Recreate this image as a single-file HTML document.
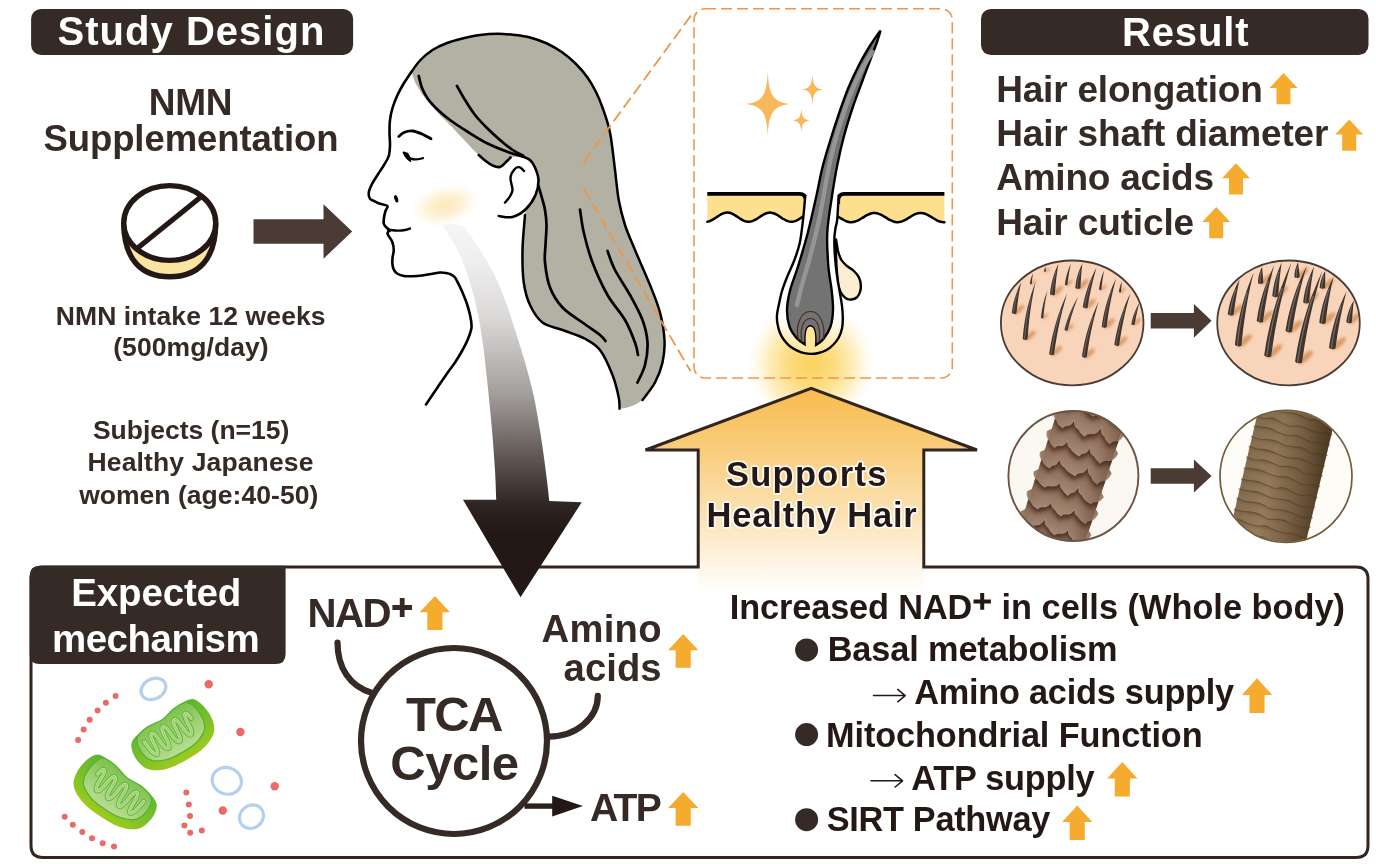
<!DOCTYPE html>
<html><head><meta charset="utf-8"><title>NMN Graphical Abstract</title>
<style>
html,body{margin:0;padding:0;background:#fff;}
body{width:1376px;height:864px;overflow:hidden;font-family:"Liberation Sans",sans-serif;}
svg{display:block;}
svg text{font-family:"Liberation Sans",sans-serif;font-weight:bold;}
</style></head><body>
<svg width="1376" height="864" viewBox="0 0 1376 864">
<rect width="1376" height="864" fill="#ffffff"/>
<!-- sec_box -->
<defs>
<linearGradient id="gOr" x1="0" y1="388" x2="0" y2="592" gradientUnits="userSpaceOnUse">
<stop offset="0" stop-color="#f8bb4e"/><stop offset="0.30" stop-color="#f9cd7c"/><stop offset="0.62" stop-color="#fbe2b4"/><stop offset="0.88" stop-color="#fef6e9"/><stop offset="1" stop-color="#ffffff"/>
</linearGradient>
<radialGradient id="gGlow" cx="811" cy="364" r="66" gradientUnits="userSpaceOnUse">
<stop offset="0" stop-color="#fbd25e"/><stop offset="0.35" stop-color="#fcd870" stop-opacity="0.9"/><stop offset="0.65" stop-color="#fde291" stop-opacity="0.6"/><stop offset="0.88" stop-color="#feeec0" stop-opacity="0.2"/><stop offset="1" stop-color="#fff" stop-opacity="0"/>
</radialGradient>
</defs>
<circle cx="811" cy="364" r="66" fill="url(#gGlow)"/>
<path d="M811.2,388.5 L975,450 L923.8,450 L923.8,592 L698.2,592 L698.2,450 L647.5,450 Z" fill="url(#gOr)"/>
<path d="M698.2,567 L698.2,450 L645.5,450 L811.2,388.3 L977,450 L923.8,450 L923.8,567 L1356,567 Q1368,567 1368,579 L1368,845.5 Q1368,857.5 1356,857.5 L43,857.5 Q31,857.5 31,845.5 L31,579 Q31,567 43,567 Z" fill="none" stroke="#30261f" stroke-width="3" stroke-linejoin="miter"/>
<rect x="31.1" y="8.9" width="322" height="46" rx="10" fill="#352a25"/>
<rect x="981" y="8.9" width="387.5" height="46.2" rx="10" fill="#352a25"/>
<path d="M39.7,565.7 L285.6,565.7 L285.6,654 Q285.6,664 275.6,664 L39.7,664 Q29.7,664 29.7,654 L29.7,575.7 Q29.7,565.7 39.7,565.7Z" fill="#352a25"/>
<path d="M253.50,219.30 L323.50,219.30 L323.50,204.30 L352.20,231.50 L323.50,258.70 L323.50,243.70 L253.50,243.70Z" fill="#4a3c34"/>
<!-- sec_head -->
<defs>
<linearGradient id="gGrey" x1="0" y1="228" x2="0" y2="560" gradientUnits="userSpaceOnUse">
<stop offset="0" stop-color="#f6f5f5"/>
<stop offset="0.10" stop-color="#efeeee"/>
<stop offset="0.27" stop-color="#dbd9d8"/>
<stop offset="0.50" stop-color="#a29e9c"/>
<stop offset="0.70" stop-color="#5d5350"/>
<stop offset="0.84" stop-color="#2d2320"/>
<stop offset="0.92" stop-color="#231815"/>
<stop offset="1" stop-color="#231815"/>
</linearGradient>
<radialGradient id="gBlush" cx="0.5" cy="0.5" r="0.5">
<stop offset="0" stop-color="#fce7b4" stop-opacity="0.95"/><stop offset="0.5" stop-color="#fdecc4" stop-opacity="0.7"/><stop offset="1" stop-color="#fff6e0" stop-opacity="0"/>
</radialGradient>
<filter id="fB" x="-30%" y="-30%" width="160%" height="160%"><feGaussianBlur stdDeviation="3"/></filter>
</defs>
<path d="M411.00,72.50 C412.50,70.50 416.42,64.25 420.00,60.50 C423.58,56.75 428.00,52.92 432.50,50.00 C437.00,47.08 442.00,44.92 447.00,43.00 C452.00,41.08 457.00,39.83 462.50,38.50 C468.00,37.17 474.17,35.79 480.00,35.00 C485.83,34.21 491.67,33.75 497.50,33.75 C503.33,33.75 509.58,34.38 515.00,35.00 C520.42,35.62 524.67,36.08 530.00,37.50 C535.33,38.92 541.58,41.00 547.00,43.50 C552.42,46.00 557.67,49.08 562.50,52.50 C567.33,55.92 571.83,59.83 576.00,64.00 C580.17,68.17 584.17,72.83 587.50,77.50 C590.83,82.17 593.50,87.00 596.00,92.00 C598.50,97.00 600.17,100.75 602.50,107.50 C604.83,114.25 607.92,122.08 610.00,132.50 C612.08,142.92 613.54,158.75 615.00,170.00 C616.46,181.25 617.08,190.83 618.75,200.00 C620.42,209.17 622.29,216.67 625.00,225.00 C627.71,233.33 630.83,240.00 635.00,250.00 C639.17,260.00 645.83,274.58 650.00,285.00 C654.17,295.42 657.58,303.33 660.00,312.50 C662.42,321.67 664.08,331.67 664.50,340.00 C664.92,348.33 664.08,355.42 662.50,362.50 C660.92,369.58 658.33,376.25 655.00,382.50 C651.67,388.75 644.58,397.08 642.50,400.00 Q632,408 619.5,408.75 C619.38,406.88 619.92,403.12 618.75,397.50 C617.58,391.88 615.62,382.92 612.50,375.00 C609.38,367.08 604.58,356.04 600.00,350.00 C595.42,343.96 591.25,342.08 585.00,338.75 C578.75,335.42 569.58,332.71 562.50,330.00 C555.42,327.29 547.92,326.67 542.50,322.50 C537.08,318.33 533.12,311.67 530.00,305.00 C526.88,298.33 525.00,291.67 523.75,282.50 C522.50,273.33 522.29,261.25 522.50,250.00 C522.71,238.75 524.00,223.33 525.00,215.00 C526.00,206.67 527.92,202.50 528.50,200.00 L528,160 L522.5,157 C520.42,157.08 513.75,155.83 510.00,157.50 C506.25,159.17 502.92,165.75 500.00,167.00 C497.08,168.25 496.04,167.00 492.50,165.00 C488.96,163.00 483.17,158.83 478.75,155.00 C474.33,151.17 470.79,147.00 466.00,142.00 C461.21,137.00 454.83,130.00 450.00,125.00 C445.17,120.00 441.17,116.50 437.00,112.00 C432.83,107.50 428.50,102.67 425.00,98.00 C421.50,93.33 418.17,88.17 416.00,84.00 C413.83,79.83 412.67,74.83 412.00,73.00Z" fill="#b3b1a3"/>
<path d="M411.00,72.50 C412.50,70.50 416.42,64.25 420.00,60.50 C423.58,56.75 428.00,52.92 432.50,50.00 C437.00,47.08 442.00,44.92 447.00,43.00 C452.00,41.08 457.00,39.83 462.50,38.50 C468.00,37.17 474.17,35.79 480.00,35.00 C485.83,34.21 491.67,33.75 497.50,33.75 C503.33,33.75 509.58,34.38 515.00,35.00 C520.42,35.62 524.67,36.08 530.00,37.50 C535.33,38.92 541.58,41.00 547.00,43.50 C552.42,46.00 557.67,49.08 562.50,52.50 C567.33,55.92 571.83,59.83 576.00,64.00 C580.17,68.17 584.17,72.83 587.50,77.50 C590.83,82.17 593.50,87.00 596.00,92.00 C598.50,97.00 600.17,100.75 602.50,107.50 C604.83,114.25 607.92,122.08 610.00,132.50 C612.08,142.92 613.54,158.75 615.00,170.00 C616.46,181.25 617.08,190.83 618.75,200.00 C620.42,209.17 622.29,216.67 625.00,225.00 C627.71,233.33 630.83,240.00 635.00,250.00 C639.17,260.00 645.83,274.58 650.00,285.00 C654.17,295.42 657.58,303.33 660.00,312.50 C662.42,321.67 664.08,331.67 664.50,340.00 C664.92,348.33 664.08,355.42 662.50,362.50 C660.92,369.58 658.33,376.25 655.00,382.50 C651.67,388.75 644.58,397.08 642.50,400.00" fill="none" stroke="#000" stroke-linecap="round" stroke-linejoin="round" stroke-width="2.5"/>
<path d="M619.50,408.75 C619.38,406.88 619.92,403.12 618.75,397.50 C617.58,391.88 615.62,382.92 612.50,375.00 C609.38,367.08 604.58,356.04 600.00,350.00 C595.42,343.96 591.25,342.08 585.00,338.75 C578.75,335.42 569.58,332.71 562.50,330.00 C555.42,327.29 547.92,326.67 542.50,322.50 C537.08,318.33 533.12,311.67 530.00,305.00 C526.88,298.33 525.00,291.67 523.75,282.50 C522.50,273.33 522.29,261.25 522.50,250.00 C522.71,238.75 524.58,220.83 525.00,215.00" fill="none" stroke="#000" stroke-linecap="round" stroke-linejoin="round" stroke-width="2.5"/>
<path d="M522.50,156.50 C523.75,157.08 527.92,158.17 530.00,160.00 C532.08,161.83 533.58,164.17 535.00,167.50 C536.42,170.83 538.42,175.42 538.50,180.00 C538.58,184.58 537.58,190.17 535.50,195.00 C533.42,199.83 529.83,205.33 526.00,209.00 C522.17,212.67 517.04,215.83 512.50,217.00 C507.96,218.17 501.04,216.17 498.75,216.00 L504,190 L508,168Z" fill="#fff"/>
<path d="M522.50,156.50 C523.75,157.08 527.92,158.17 530.00,160.00 C532.08,161.83 533.58,164.17 535.00,167.50 C536.42,170.83 538.42,175.42 538.50,180.00 C538.58,184.58 537.58,190.17 535.50,195.00 C533.42,199.83 529.83,205.33 526.00,209.00 C522.17,212.67 517.04,215.83 512.50,217.00 C507.96,218.17 501.04,216.17 498.75,216.00" fill="none" stroke="#000" stroke-linecap="round" stroke-linejoin="round" stroke-width="2.6"/>
<path d="M524.00,171.00 C523.33,170.38 521.50,167.68 520.00,167.30 C518.50,166.93 516.58,167.05 515.00,168.75 C513.42,170.45 510.92,173.96 510.50,177.50 C510.08,181.04 512.67,186.75 512.50,190.00 C512.33,193.25 510.75,194.92 509.50,197.00 C508.25,199.08 505.75,201.58 505.00,202.50" fill="none" stroke="#000" stroke-linecap="round" stroke-linejoin="round" stroke-width="2.4"/>
<path d="M478.75,155.00 C479.79,155.92 482.71,158.75 485.00,160.50 C487.29,162.25 490.00,164.42 492.50,165.50 C495.00,166.58 497.75,167.58 500.00,167.00 C502.25,166.42 504.25,163.58 506.00,162.00 C507.75,160.42 509.75,158.25 510.50,157.50" fill="none" stroke="#000" stroke-linecap="round" stroke-linejoin="round" stroke-width="2.6"/>
<path d="M418.75,76.00 C419.29,78.00 420.46,84.17 422.00,88.00 C423.54,91.83 425.33,95.33 428.00,99.00 C430.67,102.67 434.33,106.50 438.00,110.00 C441.67,113.50 445.00,116.33 450.00,120.00 C455.00,123.67 461.75,128.08 468.00,132.00 C474.25,135.92 480.83,140.17 487.50,143.50 C494.17,146.83 502.17,149.83 508.00,152.00 C513.83,154.17 520.08,155.75 522.50,156.50" fill="none" stroke="#000" stroke-linecap="round" stroke-linejoin="round" stroke-width="2.7"/>
<path d="M457.00,86.00 C458.33,88.33 462.00,95.17 465.00,100.00 C468.00,104.83 471.33,110.33 475.00,115.00 C478.67,119.67 482.83,123.83 487.00,128.00 C491.17,132.17 495.83,136.42 500.00,140.00 C504.17,143.58 508.17,146.92 512.00,149.50 C515.83,152.08 521.17,154.50 523.00,155.50" fill="none" stroke="#000" stroke-linecap="round" stroke-linejoin="round" stroke-width="2.7"/>
<path d="M538.50,186.00 C539.08,188.00 540.92,194.00 542.00,198.00 C543.08,202.00 544.25,205.50 545.00,210.00 C545.75,214.50 546.42,219.17 546.50,225.00 C546.58,230.83 545.75,238.75 545.50,245.00 C545.25,251.25 544.25,255.42 545.00,262.50 C545.75,269.58 547.08,280.00 550.00,287.50 C552.92,295.00 557.08,301.67 562.50,307.50 C567.92,313.33 576.25,317.92 582.50,322.50 C588.75,327.08 596.17,331.92 600.00,335.00 C603.83,338.08 604.58,340.00 605.50,341.00" fill="none" stroke="#000" stroke-linecap="round" stroke-linejoin="round" stroke-width="2.7"/>
<path d="M580.00,209.50 C580.62,213.33 581.67,223.67 583.75,232.50 C585.83,241.33 588.54,252.08 592.50,262.50 C596.46,272.92 602.08,285.42 607.50,295.00 C612.92,304.58 620.42,312.08 625.00,320.00 C629.58,327.92 632.83,336.67 635.00,342.50 C637.17,348.33 637.50,352.92 638.00,355.00" fill="none" stroke="#000" stroke-linecap="round" stroke-linejoin="round" stroke-width="2.7"/>
<path d="M607.50,251.00 C608.75,254.17 611.25,262.67 615.00,270.00 C618.75,277.33 625.42,286.67 630.00,295.00 C634.58,303.33 639.58,312.08 642.50,320.00 C645.42,327.92 647.08,335.00 647.50,342.50 C647.92,350.00 646.67,358.33 645.00,365.00 C643.33,371.67 638.75,379.58 637.50,382.50" fill="none" stroke="#000" stroke-linecap="round" stroke-linejoin="round" stroke-width="2.7"/>
<path d="M411.00,72.50 C409.83,74.25 406.25,79.25 404.00,83.00 C401.75,86.75 399.42,90.83 397.50,95.00 C395.58,99.17 393.75,103.83 392.50,108.00 C391.25,112.17 390.50,115.83 390.00,120.00 C389.50,124.17 389.50,128.83 389.50,133.00 C389.50,137.17 390.12,141.17 390.00,145.00 C389.88,148.83 389.75,152.67 388.75,156.00 C387.75,159.33 385.88,161.83 384.00,165.00 C382.12,168.17 379.50,171.83 377.50,175.00 C375.50,178.17 373.46,181.08 372.00,184.00 C370.54,186.92 369.08,190.04 368.75,192.50 C368.42,194.96 368.96,197.25 370.00,198.75 C371.04,200.25 373.33,200.67 375.00,201.50 C376.67,202.33 377.92,203.00 380.00,203.75 C382.08,204.50 386.58,204.79 387.50,206.00 C388.42,207.21 386.08,209.08 385.50,211.00 C384.92,212.92 384.29,215.38 384.00,217.50 C383.71,219.62 383.33,222.08 383.75,223.75 C384.17,225.42 385.46,226.38 386.50,227.50 C387.54,228.62 389.42,230.00 390.00,230.50" fill="none" stroke="#000" stroke-linecap="round" stroke-linejoin="round" stroke-width="2.6"/>
<path d="M388.00,229.80 C389.67,229.93 395.17,230.57 398.00,230.60 C400.83,230.63 403.00,230.35 405.00,230.00 C407.00,229.65 409.17,228.75 410.00,228.50" fill="none" stroke="#000" stroke-linecap="round" stroke-linejoin="round" stroke-width="2.4"/>
<path d="M388.50,231.50 C388.33,231.88 387.25,232.67 387.50,233.75 C387.75,234.83 389.17,236.54 390.00,238.00 C390.83,239.46 391.88,240.50 392.50,242.50 C393.12,244.50 393.75,247.42 393.75,250.00 C393.75,252.58 392.71,255.50 392.50,258.00 C392.29,260.50 392.25,263.00 392.50,265.00 C392.75,267.00 393.17,268.54 394.00,270.00 C394.83,271.46 395.83,272.75 397.50,273.75 C399.17,274.75 401.50,275.58 404.00,276.00 C406.50,276.42 409.50,276.33 412.50,276.25 C415.50,276.17 418.67,275.92 422.00,275.50 C425.33,275.08 429.50,274.25 432.50,273.75 C435.50,273.25 437.75,272.62 440.00,272.50 C442.25,272.38 444.17,272.67 446.00,273.00 C447.83,273.33 449.50,273.75 451.00,274.50 C452.50,275.25 453.67,275.75 455.00,277.50 C456.33,279.25 457.75,282.50 459.00,285.00 C460.25,287.50 461.17,289.33 462.50,292.50 C463.83,295.67 465.75,300.25 467.00,304.00 C468.25,307.75 469.25,311.08 470.00,315.00 C470.75,318.92 471.92,323.33 471.50,327.50 C471.08,331.67 469.08,336.08 467.50,340.00 C465.92,343.92 464.08,347.25 462.00,351.00 C459.92,354.75 457.67,358.50 455.00,362.50 C452.33,366.50 448.92,370.83 446.00,375.00 C443.08,379.17 440.83,382.58 437.50,387.50 C434.17,392.42 427.92,401.67 426.00,404.50" fill="none" stroke="#000" stroke-linecap="round" stroke-linejoin="round" stroke-width="2.6"/>
<path d="M398.75,136.50 C399.62,135.83 401.71,133.42 404.00,132.50 C406.29,131.58 409.50,130.75 412.50,131.00 C415.50,131.25 418.92,132.71 422.00,134.00 C425.08,135.29 429.50,137.96 431.00,138.75" fill="none" stroke="#000" stroke-linecap="round" stroke-linejoin="round" stroke-width="2.8"/>
<path d="M403.5,152.3 Q406,158.3 410.4,161 Q409.6,156.5 407.4,153.6Z" fill="#000" stroke="#000" stroke-width="1.8" stroke-linejoin="round"/>
<path d="M407.00,156.00 C407.67,156.43 409.50,158.03 411.00,158.60 C412.50,159.17 414.00,159.47 416.00,159.40 C418.00,159.33 421.83,158.40 423.00,158.20" fill="none" stroke="#000" stroke-linecap="round" stroke-linejoin="round" stroke-width="2.2"/>
<ellipse cx="396.2" cy="198.8" rx="1.8" ry="3.8" transform="rotate(-18 396.2 198.8)" fill="#000"/>
<ellipse cx="445" cy="205.5" rx="36" ry="21" transform="rotate(-14 445 205.5)" fill="url(#gBlush)"/>
<path d="M442.50,226.00 C443.75,227.83 447.50,233.00 450.00,237.00 C452.50,241.00 455.17,245.33 457.50,250.00 C459.83,254.67 461.92,259.58 464.00,265.00 C466.08,270.42 468.08,276.17 470.00,282.50 C471.92,288.83 473.83,295.92 475.50,303.00 C477.17,310.08 478.67,317.50 480.00,325.00 C481.33,332.50 482.50,340.50 483.50,348.00 C484.50,355.50 485.12,362.00 486.00,370.00 C486.88,378.00 487.75,386.00 488.75,396.00 C489.75,406.00 490.96,417.67 492.00,430.00 C493.04,442.33 494.29,458.38 495.00,470.00 C495.71,481.62 496.04,494.79 496.25,499.75 L463,499.75 L520.5,597.25 L581.75,502.25 L549.25,501 C548.96,498.33 548.21,491.00 547.50,485.00 C546.79,479.00 546.00,472.50 545.00,465.00 C544.00,457.50 542.75,448.17 541.50,440.00 C540.25,431.83 538.79,423.33 537.50,416.00 C536.21,408.67 535.25,402.83 533.75,396.00 C532.25,389.17 530.46,382.33 528.50,375.00 C526.54,367.67 524.25,359.50 522.00,352.00 C519.75,344.50 517.33,337.33 515.00,330.00 C512.67,322.67 510.50,315.08 508.00,308.00 C505.50,300.92 502.83,294.17 500.00,287.50 C497.17,280.83 494.33,274.25 491.00,268.00 C487.67,261.75 483.33,255.33 480.00,250.00 C476.67,244.67 473.83,240.00 471.00,236.00 C468.17,232.00 464.33,227.67 463.00,226.00 Q452,222 442.5,226Z" fill="url(#gGrey)"/>
<path d="M583.5,162.5 L692.5,13.5 M583.5,188.5 L690.5,371" stroke="#ef9648" stroke-width="1.8" stroke-dasharray="12 5" fill="none"/>
<path d="M121.2,223 C121.2,256 136,279 169.75,279 C203.5,279 218.3,256 218.3,223 C218.3,246 196,261 169.75,261 C143.5,261 121.2,246 121.2,223Z" fill="#fbe3a1"/>
<path d="M123.8,223 C123.8,259 141,276.8 169.75,276.8 C198.5,276.8 215.7,259 215.7,223" fill="none" stroke="#231815" stroke-width="5.4"/>
<ellipse cx="169.75" cy="223" rx="46" ry="37.4" fill="#fff" stroke="#231815" stroke-width="5.4"/>
<path d="M200.2,197.4 L138,247.7" stroke="#231815" stroke-width="5.2"/>
<!-- sec_follicle -->
<defs>
<linearGradient id="gHairF" x1="0" y1="0" x2="1" y2="0">
<stop offset="0" stop-color="#6a6a6a"/><stop offset="0.35" stop-color="#8c8c8c"/><stop offset="0.6" stop-color="#777"/><stop offset="1" stop-color="#666"/>
</linearGradient>
</defs>
<rect x="694" y="8.8" width="258.3" height="369.2" rx="11" fill="none" stroke="#ef9648" stroke-width="1.6" stroke-dasharray="11 5"/>
<path d="M767.80,71.20 C768.75,94.98 773.25,101.95 789.60,104.00 C773.25,106.05 768.75,113.02 767.80,136.80 C766.85,113.02 762.35,106.05 746.00,104.00 C762.35,101.95 766.85,94.98 767.80,71.20Z" fill="#f7b85c"/>
<path d="M812.40,73.80 C812.86,85.18 815.00,88.52 822.80,89.50 C815.00,90.48 812.86,93.82 812.40,105.20 C811.94,93.82 809.80,90.48 802.00,89.50 C809.80,88.52 811.94,85.18 812.40,73.80Z" fill="#f7b85c"/>
<path d="M801.30,107.80 C801.68,116.94 803.45,119.61 809.90,120.40 C803.45,121.19 801.68,123.87 801.30,133.00 C800.92,123.87 799.15,121.19 792.70,120.40 C799.15,119.61 800.92,116.94 801.30,107.80Z" fill="#f7b85c"/>
<path d="M707.3,194 L799.5,194 Q805.6,194 805.6,200 L805.6,214.89  C805.19,215.15 803.96,215.91 803.14,216.45 C802.32,216.98 801.50,217.57 800.69,218.10 C799.87,218.63 799.05,219.18 798.23,219.64 C797.41,220.10 796.59,220.53 795.77,220.86 C794.95,221.19 794.13,221.46 793.31,221.61 C792.49,221.76 791.67,221.83 790.86,221.79 C790.04,221.75 789.22,221.60 788.40,221.37 C787.58,221.14 786.76,220.81 785.94,220.42 C785.12,220.03 784.30,219.54 783.48,219.05 C782.66,218.55 781.84,217.98 781.02,217.44 C780.21,216.90 779.39,216.31 778.57,215.80 C777.75,215.28 776.93,214.76 776.11,214.34 C775.29,213.91 774.47,213.53 773.65,213.25 C772.83,212.97 772.01,212.77 771.20,212.67 C770.38,212.58 769.56,212.58 768.74,212.68 C767.92,212.78 767.10,212.99 766.28,213.27 C765.46,213.55 764.64,213.95 763.82,214.37 C763.00,214.80 762.18,215.32 761.37,215.84 C760.55,216.36 759.73,216.94 758.91,217.48 C758.09,218.02 757.27,218.59 756.45,219.09 C755.63,219.58 754.81,220.07 753.99,220.45 C753.17,220.83 752.35,221.17 751.53,221.39 C750.72,221.62 749.90,221.76 749.08,221.79 C748.26,221.83 747.44,221.76 746.62,221.60 C745.80,221.44 744.98,221.17 744.16,220.83 C743.34,220.50 742.52,220.06 741.70,219.60 C740.89,219.14 740.07,218.59 739.25,218.06 C738.43,217.52 737.61,216.94 736.79,216.40 C735.97,215.87 735.15,215.32 734.33,214.85 C733.51,214.38 732.69,213.94 731.88,213.60 C731.06,213.27 730.24,212.99 729.42,212.82 C728.60,212.66 727.78,212.58 726.96,212.61 C726.14,212.63 725.32,212.77 724.50,212.98 C723.68,213.20 722.86,213.53 722.04,213.91 C721.23,214.29 720.41,214.77 719.59,215.26 C718.77,215.75 717.95,216.32 717.13,216.86 C716.31,217.40 715.49,217.98 714.67,218.50 C713.85,219.02 713.03,219.55 712.21,219.98 C711.40,220.41 710.58,220.81 709.76,221.10 C708.94,221.39 707.71,221.61 707.30,221.71 Z" fill="#fde08f"/>
<path d="M805.60,214.89 C805.19,215.15 803.96,215.91 803.14,216.45 C802.32,216.98 801.50,217.57 800.69,218.10 C799.87,218.63 799.05,219.18 798.23,219.64 C797.41,220.10 796.59,220.53 795.77,220.86 C794.95,221.19 794.13,221.46 793.31,221.61 C792.49,221.76 791.67,221.83 790.86,221.79 C790.04,221.75 789.22,221.60 788.40,221.37 C787.58,221.14 786.76,220.81 785.94,220.42 C785.12,220.03 784.30,219.54 783.48,219.05 C782.66,218.55 781.84,217.98 781.02,217.44 C780.21,216.90 779.39,216.31 778.57,215.80 C777.75,215.28 776.93,214.76 776.11,214.34 C775.29,213.91 774.47,213.53 773.65,213.25 C772.83,212.97 772.01,212.77 771.20,212.67 C770.38,212.58 769.56,212.58 768.74,212.68 C767.92,212.78 767.10,212.99 766.28,213.27 C765.46,213.55 764.64,213.95 763.82,214.37 C763.00,214.80 762.18,215.32 761.37,215.84 C760.55,216.36 759.73,216.94 758.91,217.48 C758.09,218.02 757.27,218.59 756.45,219.09 C755.63,219.58 754.81,220.07 753.99,220.45 C753.17,220.83 752.35,221.17 751.53,221.39 C750.72,221.62 749.90,221.76 749.08,221.79 C748.26,221.83 747.44,221.76 746.62,221.60 C745.80,221.44 744.98,221.17 744.16,220.83 C743.34,220.50 742.52,220.06 741.70,219.60 C740.89,219.14 740.07,218.59 739.25,218.06 C738.43,217.52 737.61,216.94 736.79,216.40 C735.97,215.87 735.15,215.32 734.33,214.85 C733.51,214.38 732.69,213.94 731.88,213.60 C731.06,213.27 730.24,212.99 729.42,212.82 C728.60,212.66 727.78,212.58 726.96,212.61 C726.14,212.63 725.32,212.77 724.50,212.98 C723.68,213.20 722.86,213.53 722.04,213.91 C721.23,214.29 720.41,214.77 719.59,215.26 C718.77,215.75 717.95,216.32 717.13,216.86 C716.31,217.40 715.49,217.98 714.67,218.50 C713.85,219.02 713.03,219.55 712.21,219.98 C711.40,220.41 710.58,220.81 709.76,221.10 C708.94,221.39 707.71,221.61 707.30,221.71" fill="none" stroke="#000" stroke-linejoin="round" stroke-linecap="round" stroke-width="2.5"/>
<path d="M707.3,193.9 L799.5,193.9 Q805.8,193.9 805.8,200.5 L805.8,204" fill="none" stroke="#000" stroke-width="3.8" stroke-linejoin="round"/>
<path d="M944.4,194 L844.5,194 Q838.4,194 838.4,200 L838.4,216.81  C838.84,217.08 840.17,217.92 841.05,218.45 C841.93,218.98 842.82,219.53 843.70,219.99 C844.58,220.45 845.47,220.89 846.35,221.22 C847.23,221.55 848.12,221.83 849.00,221.99 C849.88,222.15 850.77,222.22 851.65,222.19 C852.53,222.16 853.42,222.03 854.30,221.81 C855.18,221.59 856.07,221.27 856.95,220.89 C857.83,220.51 858.72,220.04 859.60,219.55 C860.48,219.06 861.37,218.50 862.25,217.96 C863.13,217.42 864.02,216.84 864.90,216.32 C865.78,215.80 866.67,215.28 867.55,214.85 C868.43,214.42 869.32,214.02 870.20,213.73 C871.08,213.44 871.97,213.21 872.85,213.10 C873.73,212.99 874.62,212.97 875.50,213.05 C876.38,213.13 877.27,213.32 878.15,213.58 C879.03,213.85 879.92,214.22 880.80,214.63 C881.68,215.04 882.57,215.55 883.45,216.05 C884.33,216.56 885.22,217.14 886.10,217.68 C886.98,218.22 887.87,218.79 888.75,219.29 C889.63,219.79 890.52,220.29 891.40,220.69 C892.28,221.09 893.17,221.44 894.05,221.69 C894.93,221.94 895.82,222.11 896.70,222.17 C897.58,222.23 898.47,222.19 899.35,222.06 C900.23,221.93 901.12,221.69 902.00,221.39 C902.88,221.08 903.77,220.67 904.65,220.22 C905.53,219.78 906.42,219.25 907.30,218.73 C908.18,218.20 909.07,217.62 909.95,217.09 C910.83,216.55 911.72,215.99 912.60,215.51 C913.48,215.03 914.37,214.57 915.25,214.20 C916.13,213.84 917.02,213.53 917.90,213.33 C918.78,213.13 919.67,213.01 920.55,213.00 C921.43,212.99 922.32,213.08 923.20,213.26 C924.08,213.44 924.97,213.73 925.85,214.08 C926.73,214.43 927.62,214.87 928.50,215.35 C929.38,215.82 930.27,216.37 931.15,216.90 C932.03,217.43 932.92,218.02 933.80,218.55 C934.68,219.07 935.57,219.61 936.45,220.07 C937.33,220.52 938.22,220.95 939.10,221.28 C939.98,221.60 940.87,221.86 941.75,222.01 C942.63,222.17 943.96,222.16 944.40,222.19 Z" fill="#fde08f"/>
<path d="M838.40,216.81 C838.84,217.08 840.17,217.92 841.05,218.45 C841.93,218.98 842.82,219.53 843.70,219.99 C844.58,220.45 845.47,220.89 846.35,221.22 C847.23,221.55 848.12,221.83 849.00,221.99 C849.88,222.15 850.77,222.22 851.65,222.19 C852.53,222.16 853.42,222.03 854.30,221.81 C855.18,221.59 856.07,221.27 856.95,220.89 C857.83,220.51 858.72,220.04 859.60,219.55 C860.48,219.06 861.37,218.50 862.25,217.96 C863.13,217.42 864.02,216.84 864.90,216.32 C865.78,215.80 866.67,215.28 867.55,214.85 C868.43,214.42 869.32,214.02 870.20,213.73 C871.08,213.44 871.97,213.21 872.85,213.10 C873.73,212.99 874.62,212.97 875.50,213.05 C876.38,213.13 877.27,213.32 878.15,213.58 C879.03,213.85 879.92,214.22 880.80,214.63 C881.68,215.04 882.57,215.55 883.45,216.05 C884.33,216.56 885.22,217.14 886.10,217.68 C886.98,218.22 887.87,218.79 888.75,219.29 C889.63,219.79 890.52,220.29 891.40,220.69 C892.28,221.09 893.17,221.44 894.05,221.69 C894.93,221.94 895.82,222.11 896.70,222.17 C897.58,222.23 898.47,222.19 899.35,222.06 C900.23,221.93 901.12,221.69 902.00,221.39 C902.88,221.08 903.77,220.67 904.65,220.22 C905.53,219.78 906.42,219.25 907.30,218.73 C908.18,218.20 909.07,217.62 909.95,217.09 C910.83,216.55 911.72,215.99 912.60,215.51 C913.48,215.03 914.37,214.57 915.25,214.20 C916.13,213.84 917.02,213.53 917.90,213.33 C918.78,213.13 919.67,213.01 920.55,213.00 C921.43,212.99 922.32,213.08 923.20,213.26 C924.08,213.44 924.97,213.73 925.85,214.08 C926.73,214.43 927.62,214.87 928.50,215.35 C929.38,215.82 930.27,216.37 931.15,216.90 C932.03,217.43 932.92,218.02 933.80,218.55 C934.68,219.07 935.57,219.61 936.45,220.07 C937.33,220.52 938.22,220.95 939.10,221.28 C939.98,221.60 940.87,221.86 941.75,222.01 C942.63,222.17 943.96,222.16 944.40,222.19" fill="none" stroke="#000" stroke-linejoin="round" stroke-linecap="round" stroke-width="2.5"/>
<path d="M944.4,193.9 L844.5,193.9 Q838.2,193.9 838.2,200.5 L838.2,204" fill="none" stroke="#000" stroke-width="3.8" stroke-linejoin="round"/>
<path d="M835.80,240.60 C835.88,235.77 837.07,247.77 838.00,251.00 C838.93,254.23 839.90,257.50 841.40,260.00 C842.90,262.50 844.92,264.17 847.00,266.00 C849.08,267.83 851.90,269.08 853.90,271.00 C855.90,272.92 857.85,275.17 859.00,277.50 C860.15,279.83 860.63,282.58 860.80,285.00 C860.97,287.42 860.68,289.92 860.00,292.00 C859.32,294.08 858.12,296.25 856.70,297.50 C855.28,298.75 853.12,299.27 851.50,299.50 C849.88,299.73 848.42,299.57 847.00,298.90 C845.58,298.23 844.17,296.88 843.00,295.50 C841.83,294.12 840.92,293.18 840.00,290.60 C839.08,288.02 838.20,288.33 837.50,280.00 C836.80,271.67 835.72,245.43 835.80,240.60Z" fill="#fbedd2" stroke="#000" stroke-linejoin="round" stroke-linecap="round" stroke-width="2.4"/>
<defs><linearGradient id="gSh" x1="0" y1="280" x2="0" y2="350" gradientUnits="userSpaceOnUse"><stop offset="0" stop-color="#fff"/><stop offset="0.55" stop-color="#fff"/><stop offset="1" stop-color="#fde59a"/></linearGradient></defs>
<path d="M805.30,196.00 C804.92,200.00 803.93,212.12 803.00,220.00 C802.07,227.88 801.20,236.47 799.70,243.30 C798.20,250.13 796.08,255.43 794.00,261.00 C791.92,266.57 789.20,271.70 787.20,276.70 C785.20,281.70 783.38,286.38 782.00,291.00 C780.62,295.62 779.73,300.40 778.90,304.40 C778.07,308.40 777.23,311.75 777.00,315.00 C776.77,318.25 777.00,320.90 777.50,323.90 C778.00,326.90 778.85,330.22 780.00,333.00 C781.15,335.78 782.65,338.30 784.40,340.60 C786.15,342.90 788.18,345.05 790.50,346.80 C792.82,348.55 795.97,350.03 798.30,351.10 C800.63,352.17 802.42,352.73 804.50,353.20 C806.58,353.67 808.47,353.93 810.80,353.90 C813.13,353.87 815.95,353.60 818.50,353.00 C821.05,352.40 823.68,351.63 826.10,350.30 C828.52,348.97 830.92,347.08 833.00,345.00 C835.08,342.92 837.10,340.55 838.60,337.80 C840.10,335.05 841.30,331.75 842.00,328.50 C842.70,325.25 842.80,322.05 842.80,318.30 C842.80,314.55 842.47,310.17 842.00,306.00 C841.53,301.83 840.75,297.80 840.00,293.30 C839.25,288.80 838.20,283.62 837.50,279.00 C836.80,274.38 836.28,270.27 835.80,265.60 C835.32,260.93 834.83,255.63 834.60,251.00 C834.37,246.37 834.25,241.63 834.40,237.80 C834.55,233.97 835.03,231.02 835.50,228.00 C835.97,224.98 836.68,225.03 837.20,219.70 C837.72,214.37 838.37,199.95 838.60,196.00Z" fill="url(#gSh)"/>
<path d="M805.30,196.00 C804.92,200.00 803.93,212.12 803.00,220.00 C802.07,227.88 801.20,236.47 799.70,243.30 C798.20,250.13 796.08,255.43 794.00,261.00 C791.92,266.57 789.20,271.70 787.20,276.70 C785.20,281.70 783.38,286.38 782.00,291.00 C780.62,295.62 779.73,300.40 778.90,304.40 C778.07,308.40 777.23,311.75 777.00,315.00 C776.77,318.25 777.00,320.90 777.50,323.90 C778.00,326.90 778.85,330.22 780.00,333.00 C781.15,335.78 782.65,338.30 784.40,340.60 C786.15,342.90 788.18,345.05 790.50,346.80 C792.82,348.55 795.97,350.03 798.30,351.10 C800.63,352.17 802.42,352.73 804.50,353.20 C806.58,353.67 808.47,353.93 810.80,353.90 C813.13,353.87 815.95,353.60 818.50,353.00 C821.05,352.40 823.68,351.63 826.10,350.30 C828.52,348.97 830.92,347.08 833.00,345.00 C835.08,342.92 837.10,340.55 838.60,337.80 C840.10,335.05 841.30,331.75 842.00,328.50 C842.70,325.25 842.80,322.05 842.80,318.30 C842.80,314.55 842.47,310.17 842.00,306.00 C841.53,301.83 840.75,297.80 840.00,293.30 C839.25,288.80 838.20,283.62 837.50,279.00 C836.80,274.38 836.28,270.27 835.80,265.60 C835.32,260.93 834.83,255.63 834.60,251.00 C834.37,246.37 834.25,241.63 834.40,237.80 C834.55,233.97 835.03,231.02 835.50,228.00 C835.97,224.98 836.68,225.03 837.20,219.70 C837.72,214.37 838.37,199.95 838.60,196.00" fill="none" stroke="#000" stroke-linejoin="round" stroke-linecap="round" stroke-width="2.4"/>
<path d="M879.70,31.30 C878.17,33.58 873.87,39.55 870.50,45.00 C867.13,50.45 863.20,56.83 859.50,64.00 C855.80,71.17 851.80,79.50 848.30,88.00 C844.80,96.50 841.58,106.00 838.50,115.00 C835.42,124.00 832.50,133.17 829.80,142.00 C827.10,150.83 824.53,159.00 822.30,168.00 C820.07,177.00 818.78,185.33 816.40,196.00 C814.02,206.67 811.02,220.40 808.00,232.00 C804.98,243.60 801.30,255.83 798.30,265.60 C795.30,275.37 791.88,283.20 790.00,290.60 C788.12,298.00 787.08,303.98 787.00,310.00 C786.92,316.02 787.83,321.95 789.50,326.70 C791.17,331.45 794.33,335.50 797.00,338.50 C799.67,341.50 804.08,343.67 805.50,344.70 L805.5,344.7 C805.3,336 805.6,326.2 810.3,326.2 C815,326.2 815.8,336 815.2,345.4 C816.55,344.37 820.75,342.32 823.30,339.20 C825.85,336.08 828.88,331.57 830.50,326.70 C832.12,321.83 832.80,316.02 833.00,310.00 C833.20,303.98 832.48,298.00 831.70,290.60 C830.92,283.20 829.03,275.33 828.30,265.60 C827.57,255.87 826.68,243.80 827.30,232.20 C827.92,220.60 830.33,207.20 832.00,196.00 C833.67,184.80 835.30,175.00 837.30,165.00 C839.30,155.00 841.47,145.50 844.00,136.00 C846.53,126.50 849.50,117.00 852.50,108.00 C855.50,99.00 858.92,90.33 862.00,82.00 C865.08,73.67 868.50,64.67 871.00,58.00 C873.50,51.33 875.45,46.42 877.00,42.00 C878.55,37.58 879.75,33.25 880.30,31.50Z" fill="#737373" stroke="#000" stroke-linejoin="round" stroke-linecap="round" stroke-width="2.4"/>
<path d="M872.50,52.00 C870.50,55.33 864.42,64.33 860.50,72.00 C856.58,79.67 852.50,89.00 849.00,98.00 C845.50,107.00 842.42,116.50 839.50,126.00 C836.58,135.50 833.83,145.17 831.50,155.00 C829.17,164.83 827.58,174.17 825.50,185.00 C823.42,195.83 821.50,208.33 819.00,220.00 C816.50,231.67 813.33,244.17 810.50,255.00 C807.67,265.83 804.25,276.67 802.00,285.00 C799.75,293.33 797.83,301.67 797.00,305.00" fill="none" stroke="#9c9c9c" stroke-width="4.4" stroke-linecap="round" opacity="0.85"/>
<path d="M805.8,345.5 C805.3,336 805.6,326.6 810.3,326.6 C815,326.6 815.8,336 814.9,345.9 Q810,348 805.8,345.5Z" fill="#fde59a"/>
<path d="M798.5,340 C795,327 800,311.5 810.5,311.5 C821,311.5 826,327 823,340" fill="none" stroke="#4a2a20" stroke-width="1.2"/>
<path d="M802,342 C799.5,331 802.5,318.5 810.5,318.5 C818.5,318.5 821,331 819,342.5" fill="none" stroke="#4a2a20" stroke-width="1.1"/>
<!-- sec_result -->
<defs>
<filter id="fSh" x="-20%" y="-20%" width="140%" height="140%"><feGaussianBlur stdDeviation="1.5"/></filter>
<filter id="fSc" x="-10%" y="-30%" width="120%" height="160%"><feGaussianBlur stdDeviation="2"/></filter>
<linearGradient id="gS1" x1="0" y1="0" x2="1" y2="0"><stop offset="0" stop-color="#98796a"/><stop offset="0.4" stop-color="#a68a77"/><stop offset="0.75" stop-color="#987a67"/><stop offset="1" stop-color="#856553"/></linearGradient>
<linearGradient id="gS1r" x1="0" y1="0" x2="0" y2="1"><stop offset="0" stop-color="#7b5d4b"/><stop offset="0.5" stop-color="#92745f"/><stop offset="1" stop-color="#a98d79"/></linearGradient>
<linearGradient id="gS1s" x1="0" y1="0" x2="1" y2="0"><stop offset="0" stop-color="#5a3a2a" stop-opacity="0.18"/><stop offset="0.2" stop-color="#5a3a2a" stop-opacity="0"/><stop offset="0.72" stop-color="#5a3a2a" stop-opacity="0"/><stop offset="1" stop-color="#4a2c1e" stop-opacity="0.35"/></linearGradient>
<linearGradient id="gS2" x1="0" y1="0" x2="1" y2="0"><stop offset="0" stop-color="#846c50"/><stop offset="0.35" stop-color="#967b5c"/><stop offset="0.7" stop-color="#7f654a"/><stop offset="1" stop-color="#5e4831"/></linearGradient>
<linearGradient id="gS2l" x1="0" y1="0" x2="0" y2="1"><stop offset="0" stop-color="#4a3818" stop-opacity="0.42"/><stop offset="0.5" stop-color="#4a3818" stop-opacity="0.1"/><stop offset="1" stop-color="#4a3818" stop-opacity="0"/></linearGradient>
<linearGradient id="gS2s" x1="1" y1="0" x2="0.3" y2="0.6"><stop offset="0" stop-color="#2e220c" stop-opacity="0.55"/><stop offset="0.5" stop-color="#3a2c12" stop-opacity="0.15"/><stop offset="1" stop-color="#3a2c12" stop-opacity="0"/></linearGradient>
</defs>
<clipPath id="cpA"><ellipse cx="1072.20" cy="322.90" rx="71.30" ry="62.40"/></clipPath>
<ellipse cx="1072.20" cy="322.90" rx="71.30" ry="62.40" fill="#f8d4ba"/>
<g clip-path="url(#cpA)">
<g filter="url(#fSh)">
<ellipse cx="1019.16" cy="309.74" rx="6.68" ry="2.36" transform="rotate(-42 1019.16 309.74)" fill="#c87430" opacity="0.62"/>
<ellipse cx="1030.37" cy="335.53" rx="6.92" ry="2.44" transform="rotate(-42 1030.37 335.53)" fill="#c87430" opacity="0.62"/>
<ellipse cx="1045.10" cy="316.11" rx="3.94" ry="1.48" transform="rotate(-42 1045.10 316.11)" fill="#c87430" opacity="0.62"/>
<ellipse cx="1057.61" cy="290.96" rx="6.92" ry="2.44" transform="rotate(-42 1057.61 290.96)" fill="#c87430" opacity="0.62"/>
<ellipse cx="1056.80" cy="350.93" rx="6.92" ry="2.44" transform="rotate(-42 1056.80 350.93)" fill="#c87430" opacity="0.62"/>
<ellipse cx="1069.69" cy="327.72" rx="4.93" ry="1.80" transform="rotate(-42 1069.69 327.72)" fill="#c87430" opacity="0.62"/>
<ellipse cx="1069.28" cy="282.75" rx="4.19" ry="1.56" transform="rotate(-42 1069.28 282.75)" fill="#c87430" opacity="0.62"/>
<ellipse cx="1083.25" cy="284.33" rx="7.17" ry="2.52" transform="rotate(-42 1083.25 284.33)" fill="#c87430" opacity="0.62"/>
<ellipse cx="1090.35" cy="303.92" rx="6.92" ry="2.44" transform="rotate(-42 1090.35 303.92)" fill="#c87430" opacity="0.62"/>
<ellipse cx="1089.54" cy="353.37" rx="6.92" ry="2.44" transform="rotate(-42 1089.54 353.37)" fill="#c87430" opacity="0.62"/>
<ellipse cx="1103.13" cy="287.75" rx="3.94" ry="1.48" transform="rotate(-42 1103.13 287.75)" fill="#c87430" opacity="0.62"/>
<ellipse cx="1109.32" cy="323.38" rx="6.92" ry="2.44" transform="rotate(-42 1109.32 323.38)" fill="#c87430" opacity="0.62"/>
<ellipse cx="1121.96" cy="341.53" rx="6.92" ry="2.44" transform="rotate(-42 1121.96 341.53)" fill="#c87430" opacity="0.62"/>
<ellipse cx="1122.62" cy="290.38" rx="3.56" ry="1.36" transform="rotate(-42 1122.62 290.38)" fill="#c87430" opacity="0.62"/>
<ellipse cx="1136.83" cy="321.91" rx="5.18" ry="1.88" transform="rotate(-42 1136.83 321.91)" fill="#c87430" opacity="0.62"/>
<ellipse cx="1033.28" cy="282.42" rx="3.32" ry="1.28" transform="rotate(-42 1033.28 282.42)" fill="#c87430" opacity="0.62"/>
<ellipse cx="1047.38" cy="269.94" rx="3.32" ry="1.28" transform="rotate(-42 1047.38 269.94)" fill="#c87430" opacity="0.62"/>
</g>
<path d="M1044.05,271.52 C1044.06,271.40 1044.07,271.06 1044.09,270.83 C1044.11,270.61 1044.14,270.38 1044.18,270.15 C1044.22,269.93 1044.27,269.71 1044.33,269.48 C1044.39,269.26 1044.45,269.04 1044.53,268.83 C1044.61,268.61 1044.69,268.40 1044.79,268.19 C1044.88,267.98 1044.98,267.77 1045.09,267.57 C1045.20,267.36 1045.38,267.07 1045.44,266.97 L1045.44,266.97 C1045.45,267.08 1045.49,267.43 1045.52,267.65 C1045.54,267.88 1045.57,268.10 1045.60,268.32 C1045.62,268.54 1045.64,268.75 1045.67,268.97 C1045.69,269.19 1045.71,269.40 1045.73,269.61 C1045.75,269.82 1045.77,270.03 1045.78,270.24 C1045.80,270.45 1045.82,270.66 1045.83,270.87 C1045.84,271.08 1045.85,271.39 1045.86,271.50 Q1044.89,272.10 1044.05,271.52Z" fill="#40342f"/>
<path d="M1029.95,283.92 C1029.98,283.66 1030.06,282.87 1030.13,282.36 C1030.21,281.84 1030.30,281.32 1030.40,280.81 C1030.50,280.30 1030.62,279.79 1030.75,279.28 C1030.88,278.78 1031.03,278.28 1031.19,277.78 C1031.35,277.29 1031.52,276.80 1031.70,276.31 C1031.89,275.82 1032.08,275.34 1032.29,274.87 C1032.50,274.39 1032.85,273.69 1032.96,273.45 L1032.96,273.45 C1032.92,273.71 1032.79,274.48 1032.71,274.99 C1032.64,275.50 1032.56,276.01 1032.50,276.51 C1032.43,277.02 1032.36,277.52 1032.31,278.03 C1032.25,278.53 1032.19,279.03 1032.14,279.54 C1032.09,280.04 1032.04,280.54 1031.99,281.04 C1031.95,281.55 1031.90,282.05 1031.86,282.55 C1031.82,283.05 1031.77,283.81 1031.75,284.06 Q1030.73,284.57 1029.95,283.92Z" fill="#40342f"/>
<path d="M1064.92,284.67 C1065.00,284.14 1065.18,282.55 1065.35,281.50 C1065.52,280.45 1065.72,279.41 1065.94,278.37 C1066.16,277.34 1066.40,276.30 1066.67,275.28 C1066.94,274.26 1067.24,273.24 1067.56,272.24 C1067.87,271.23 1068.22,270.23 1068.58,269.24 C1068.95,268.25 1069.34,267.27 1069.75,266.29 C1070.16,265.32 1070.84,263.88 1071.05,263.40 L1071.05,263.40 C1070.93,263.92 1070.56,265.46 1070.34,266.48 C1070.11,267.51 1069.90,268.53 1069.70,269.55 C1069.49,270.58 1069.30,271.60 1069.12,272.62 C1068.94,273.64 1068.78,274.67 1068.62,275.69 C1068.46,276.71 1068.31,277.74 1068.17,278.76 C1068.03,279.79 1067.91,280.81 1067.79,281.84 C1067.67,282.87 1067.51,284.42 1067.45,284.93 Q1066.00,285.62 1064.92,284.67Z" fill="#40342f"/>
<path d="M1075.32,287.88 C1075.39,287.27 1075.54,285.43 1075.70,284.22 C1075.87,283.00 1076.07,281.79 1076.30,280.59 C1076.54,279.39 1076.81,278.20 1077.12,277.02 C1077.43,275.84 1077.77,274.67 1078.15,273.51 C1078.52,272.35 1078.93,271.20 1079.37,270.06 C1079.82,268.93 1080.29,267.80 1080.79,266.69 C1081.30,265.58 1082.13,263.95 1082.40,263.40 L1082.40,263.40 C1082.33,264.00 1082.11,265.82 1081.98,267.02 C1081.86,268.22 1081.74,269.41 1081.63,270.60 C1081.51,271.79 1081.41,272.97 1081.31,274.15 C1081.22,275.33 1081.13,276.50 1081.04,277.67 C1080.96,278.85 1080.88,280.02 1080.80,281.19 C1080.73,282.36 1080.66,283.52 1080.59,284.69 C1080.52,285.86 1080.43,287.62 1080.40,288.20 Q1077.56,289.69 1075.32,287.88Z" fill="#40342f"/><path d="M1077.23,288.00 C1077.28,287.40 1077.41,285.59 1077.54,284.40 C1077.66,283.20 1077.82,282.00 1077.99,280.82 C1078.17,279.63 1078.37,278.44 1078.59,277.27 C1078.82,276.09 1079.06,274.92 1079.33,273.75 C1079.61,272.58 1080.07,270.84 1080.22,270.26" fill="none" stroke="#8b807a" stroke-width="0.96" stroke-linecap="round" opacity="0.7"/>
<path d="M1099.07,289.56 C1099.13,289.08 1099.27,287.64 1099.41,286.69 C1099.54,285.74 1099.70,284.79 1099.88,283.85 C1100.07,282.90 1100.27,281.97 1100.50,281.04 C1100.73,280.11 1100.98,279.18 1101.25,278.26 C1101.53,277.35 1101.82,276.44 1102.14,275.53 C1102.45,274.63 1102.79,273.74 1103.15,272.85 C1103.51,271.96 1104.09,270.65 1104.28,270.21 L1104.28,270.21 C1104.18,270.68 1103.88,272.08 1103.69,273.01 C1103.50,273.94 1103.33,274.87 1103.16,275.80 C1103.00,276.73 1102.84,277.66 1102.70,278.59 C1102.55,279.52 1102.42,280.45 1102.29,281.38 C1102.16,282.31 1102.05,283.23 1101.94,284.16 C1101.83,285.10 1101.73,286.03 1101.64,286.96 C1101.55,287.89 1101.43,289.29 1101.39,289.76 Q1100.07,290.42 1099.07,289.56Z" fill="#40342f"/>
<path d="M1119.00,292.03 C1119.03,291.77 1119.09,290.98 1119.16,290.47 C1119.23,289.95 1119.32,289.43 1119.41,288.92 C1119.51,288.41 1119.63,287.90 1119.76,287.39 C1119.88,286.89 1120.03,286.39 1120.18,285.89 C1120.34,285.39 1120.51,284.90 1120.69,284.41 C1120.88,283.93 1121.07,283.45 1121.28,282.97 C1121.49,282.49 1121.84,281.79 1121.95,281.56 L1121.95,281.56 C1121.92,281.81 1121.82,282.59 1121.76,283.10 C1121.69,283.61 1121.64,284.12 1121.58,284.63 C1121.53,285.13 1121.48,285.64 1121.44,286.14 C1121.39,286.65 1121.35,287.15 1121.31,287.65 C1121.27,288.15 1121.23,288.65 1121.20,289.15 C1121.16,289.65 1121.13,290.15 1121.10,290.65 C1121.07,291.15 1121.03,291.91 1121.01,292.16 Q1119.89,292.75 1119.00,292.03Z" fill="#40342f"/>
<path d="M1049.98,294.35 C1050.06,293.59 1050.27,291.30 1050.47,289.79 C1050.68,288.27 1050.93,286.77 1051.22,285.27 C1051.50,283.78 1051.83,282.29 1052.20,280.82 C1052.57,279.34 1052.97,277.88 1053.42,276.43 C1053.86,274.98 1054.35,273.54 1054.86,272.11 C1055.38,270.69 1055.94,269.27 1056.53,267.88 C1057.12,266.48 1058.10,264.42 1058.41,263.73 L1058.41,263.73 C1058.29,264.47 1057.90,266.71 1057.67,268.20 C1057.44,269.69 1057.22,271.17 1057.02,272.65 C1056.81,274.13 1056.62,275.60 1056.45,277.07 C1056.27,278.54 1056.11,280.01 1055.95,281.48 C1055.80,282.95 1055.66,284.42 1055.52,285.88 C1055.39,287.35 1055.27,288.82 1055.16,290.29 C1055.04,291.76 1054.89,293.97 1054.84,294.70 Q1052.10,296.11 1049.98,294.35Z" fill="#40342f"/><path d="M1051.80,294.48 C1051.87,293.73 1052.06,291.47 1052.23,289.97 C1052.40,288.48 1052.60,286.99 1052.83,285.50 C1053.06,284.02 1053.32,282.54 1053.61,281.07 C1053.89,279.59 1054.21,278.13 1054.55,276.67 C1054.90,275.21 1055.49,273.04 1055.67,272.31" fill="none" stroke="#8b807a" stroke-width="0.92" stroke-linecap="round" opacity="0.7"/>
<path d="M1082.75,307.11 C1082.94,306.12 1083.46,303.16 1083.88,301.20 C1084.31,299.25 1084.78,297.30 1085.31,295.38 C1085.83,293.45 1086.40,291.54 1087.01,289.65 C1087.63,287.75 1088.29,285.87 1088.99,284.01 C1089.70,282.16 1090.45,280.31 1091.24,278.49 C1092.03,276.67 1092.87,274.86 1093.75,273.07 C1094.62,271.29 1096.04,268.66 1096.50,267.78 L1096.50,267.78 C1096.23,268.73 1095.38,271.59 1094.85,273.50 C1094.32,275.40 1093.82,277.30 1093.34,279.21 C1092.85,281.11 1092.39,283.01 1091.95,284.92 C1091.51,286.82 1091.09,288.72 1090.69,290.63 C1090.29,292.54 1089.91,294.45 1089.54,296.36 C1089.18,298.27 1088.83,300.18 1088.50,302.10 C1088.17,304.02 1087.72,306.92 1087.56,307.88 Q1084.71,309.04 1082.75,307.11Z" fill="#40342f"/><path d="M1084.55,307.40 C1084.73,306.42 1085.23,303.48 1085.62,301.54 C1086.01,299.60 1086.43,297.67 1086.90,295.75 C1087.36,293.83 1087.86,291.92 1088.39,290.02 C1088.93,288.12 1089.50,286.23 1090.10,284.35 C1090.71,282.48 1091.71,279.69 1092.03,278.76" fill="none" stroke="#8b807a" stroke-width="0.92" stroke-linecap="round" opacity="0.7"/>
<path d="M1011.84,312.93 C1011.94,312.17 1012.22,309.87 1012.47,308.36 C1012.72,306.84 1013.01,305.34 1013.34,303.84 C1013.67,302.35 1014.04,300.86 1014.45,299.39 C1014.86,297.92 1015.31,296.46 1015.79,295.01 C1016.28,293.56 1016.80,292.13 1017.36,290.71 C1017.92,289.29 1018.51,287.88 1019.14,286.49 C1019.77,285.10 1020.79,283.06 1021.13,282.37 L1021.13,282.37 C1020.97,283.11 1020.50,285.35 1020.22,286.84 C1019.93,288.32 1019.66,289.80 1019.40,291.28 C1019.14,292.76 1018.90,294.24 1018.67,295.71 C1018.44,297.19 1018.23,298.66 1018.02,300.13 C1017.82,301.61 1017.62,303.08 1017.44,304.55 C1017.26,306.02 1017.09,307.50 1016.93,308.97 C1016.77,310.45 1016.55,312.67 1016.47,313.41 Q1013.82,314.67 1011.84,312.93Z" fill="#40342f"/><path d="M1013.58,313.11 C1013.67,312.35 1013.92,310.09 1014.14,308.59 C1014.36,307.09 1014.60,305.59 1014.88,304.11 C1015.16,302.62 1015.46,301.14 1015.79,299.67 C1016.12,298.20 1016.48,296.73 1016.87,295.27 C1017.26,293.82 1017.92,291.65 1018.12,290.92" fill="none" stroke="#8b807a" stroke-width="0.88" stroke-linecap="round" opacity="0.7"/>
<path d="M1041.04,317.95 C1041.10,317.27 1041.27,315.24 1041.44,313.90 C1041.60,312.55 1041.80,311.21 1042.02,309.88 C1042.25,308.55 1042.50,307.22 1042.78,305.90 C1043.07,304.59 1043.38,303.27 1043.72,301.97 C1044.06,300.67 1044.43,299.37 1044.83,298.09 C1045.23,296.80 1045.65,295.52 1046.11,294.25 C1046.56,292.98 1047.31,291.10 1047.55,290.47 L1047.55,290.47 C1047.40,291.13 1046.93,293.10 1046.65,294.41 C1046.37,295.72 1046.11,297.03 1045.86,298.34 C1045.61,299.65 1045.38,300.97 1045.17,302.28 C1044.96,303.59 1044.76,304.91 1044.58,306.22 C1044.40,307.54 1044.23,308.85 1044.08,310.17 C1043.93,311.49 1043.80,312.81 1043.68,314.13 C1043.56,315.46 1043.41,317.45 1043.36,318.11 Q1042.05,318.79 1041.04,317.95Z" fill="#40342f"/>
<path d="M1131.30,324.23 C1131.42,323.68 1131.72,322.04 1131.98,320.96 C1132.23,319.88 1132.51,318.81 1132.82,317.75 C1133.13,316.69 1133.47,315.63 1133.83,314.59 C1134.20,313.55 1134.59,312.52 1135.01,311.49 C1135.43,310.47 1135.87,309.46 1136.34,308.47 C1136.81,307.47 1137.31,306.48 1137.83,305.51 C1138.35,304.54 1139.19,303.11 1139.46,302.63 L1139.46,302.63 C1139.32,303.16 1138.87,304.75 1138.59,305.81 C1138.32,306.87 1138.05,307.93 1137.80,308.98 C1137.54,310.04 1137.30,311.09 1137.06,312.14 C1136.83,313.20 1136.60,314.25 1136.39,315.30 C1136.17,316.35 1135.96,317.40 1135.76,318.46 C1135.56,319.51 1135.37,320.56 1135.18,321.62 C1135.00,322.68 1134.74,324.27 1134.65,324.80 Q1132.66,325.59 1131.30,324.23Z" fill="#40342f"/><path d="M1132.56,324.44 C1132.66,323.90 1132.95,322.28 1133.18,321.21 C1133.41,320.14 1133.66,319.07 1133.92,318.01 C1134.19,316.95 1134.48,315.90 1134.79,314.86 C1135.10,313.81 1135.43,312.77 1135.78,311.74 C1136.13,310.70 1136.70,309.17 1136.89,308.66" fill="none" stroke="#8b807a" stroke-width="0.64" stroke-linecap="round" opacity="0.7"/>
<path d="M1101.70,326.64 C1101.89,325.44 1102.39,321.80 1102.81,319.40 C1103.24,317.00 1103.72,314.62 1104.26,312.25 C1104.80,309.88 1105.39,307.52 1106.04,305.18 C1106.68,302.84 1107.38,300.52 1108.13,298.22 C1108.89,295.91 1109.69,293.62 1110.55,291.36 C1111.40,289.09 1112.31,286.84 1113.26,284.61 C1114.22,282.39 1115.78,279.09 1116.28,277.99 L1116.28,277.99 C1115.96,279.16 1114.98,282.66 1114.38,285.00 C1113.78,287.33 1113.21,289.67 1112.67,292.00 C1112.12,294.34 1111.61,296.67 1111.13,299.01 C1110.64,301.35 1110.18,303.69 1109.75,306.03 C1109.32,308.38 1108.91,310.72 1108.53,313.08 C1108.15,315.43 1107.80,317.78 1107.46,320.14 C1107.13,322.51 1106.69,326.06 1106.54,327.25 Q1103.73,328.51 1101.70,326.64Z" fill="#40342f"/><path d="M1103.52,326.87 C1103.69,325.67 1104.17,322.07 1104.56,319.68 C1104.95,317.30 1105.38,314.92 1105.86,312.56 C1106.34,310.19 1106.86,307.84 1107.43,305.50 C1107.99,303.16 1108.60,300.83 1109.26,298.51 C1109.91,296.20 1110.99,292.75 1111.34,291.60" fill="none" stroke="#8b807a" stroke-width="0.92" stroke-linecap="round" opacity="0.7"/>
<path d="M1064.48,329.82 C1064.70,328.98 1065.33,326.45 1065.81,324.79 C1066.29,323.12 1066.81,321.47 1067.37,319.83 C1067.92,318.20 1068.51,316.58 1069.14,314.97 C1069.77,313.36 1070.44,311.77 1071.13,310.20 C1071.83,308.62 1072.57,307.06 1073.34,305.52 C1074.10,303.98 1074.91,302.45 1075.74,300.94 C1076.58,299.44 1077.91,297.22 1078.35,296.47 L1078.35,296.47 C1078.03,297.27 1077.05,299.67 1076.44,301.27 C1075.83,302.87 1075.24,304.48 1074.67,306.08 C1074.10,307.69 1073.55,309.31 1073.02,310.92 C1072.49,312.54 1071.98,314.16 1071.49,315.78 C1071.00,317.41 1070.53,319.04 1070.08,320.67 C1069.62,322.30 1069.19,323.94 1068.77,325.59 C1068.36,327.24 1067.78,329.72 1067.58,330.55 Q1065.67,331.17 1064.48,329.82Z" fill="#40342f"/><path d="M1065.64,330.10 C1065.85,329.26 1066.46,326.75 1066.92,325.09 C1067.38,323.43 1067.87,321.78 1068.38,320.15 C1068.90,318.51 1069.45,316.89 1070.02,315.27 C1070.60,313.66 1071.21,312.06 1071.84,310.47 C1072.48,308.88 1073.50,306.52 1073.84,305.73" fill="none" stroke="#8b807a" stroke-width="0.60" stroke-linecap="round" opacity="0.7"/>
<path d="M1022.74,338.95 C1022.87,337.54 1023.18,333.31 1023.49,330.50 C1023.81,327.70 1024.18,324.90 1024.62,322.12 C1025.06,319.34 1025.56,316.57 1026.12,313.82 C1026.68,311.07 1027.31,308.33 1027.99,305.61 C1028.67,302.88 1029.42,300.17 1030.22,297.49 C1031.02,294.80 1031.88,292.12 1032.79,289.47 C1033.71,286.81 1035.23,282.88 1035.71,281.56 L1035.71,281.56 C1035.42,282.93 1034.49,287.04 1033.93,289.78 C1033.38,292.52 1032.86,295.26 1032.37,298.00 C1031.89,300.74 1031.44,303.47 1031.03,306.21 C1030.61,308.96 1030.23,311.70 1029.88,314.44 C1029.53,317.19 1029.22,319.93 1028.94,322.68 C1028.65,325.44 1028.40,328.19 1028.18,330.95 C1027.96,333.71 1027.71,337.87 1027.61,339.25 Q1024.89,340.69 1022.74,338.95Z" fill="#40342f"/><path d="M1024.57,339.07 C1024.68,337.67 1024.97,333.46 1025.25,330.67 C1025.53,327.88 1025.86,325.10 1026.24,322.33 C1026.62,319.56 1027.05,316.80 1027.53,314.05 C1028.01,311.30 1028.55,308.56 1029.13,305.83 C1029.71,303.10 1030.71,299.04 1031.03,297.68" fill="none" stroke="#8b807a" stroke-width="0.92" stroke-linecap="round" opacity="0.7"/>
<path d="M1114.35,344.76 C1114.57,343.48 1115.16,339.60 1115.65,337.04 C1116.14,334.48 1116.69,331.93 1117.29,329.40 C1117.90,326.88 1118.57,324.36 1119.29,321.87 C1120.01,319.38 1120.78,316.90 1121.61,314.45 C1122.45,311.99 1123.33,309.56 1124.27,307.14 C1125.21,304.73 1126.21,302.33 1127.25,299.96 C1128.30,297.59 1129.99,294.08 1130.54,292.90 L1130.54,292.90 C1130.18,294.15 1129.06,297.87 1128.37,300.36 C1127.67,302.84 1127.01,305.33 1126.38,307.82 C1125.76,310.31 1125.16,312.80 1124.59,315.29 C1124.03,317.78 1123.49,320.28 1122.99,322.78 C1122.48,325.28 1122.00,327.79 1121.55,330.30 C1121.10,332.81 1120.68,335.32 1120.29,337.85 C1119.89,340.37 1119.36,344.17 1119.18,345.44 Q1116.35,346.66 1114.35,344.76Z" fill="#40342f"/><path d="M1116.16,345.02 C1116.37,343.74 1116.93,339.89 1117.39,337.34 C1117.84,334.79 1118.34,332.26 1118.89,329.74 C1119.44,327.22 1120.03,324.71 1120.67,322.21 C1121.31,319.72 1122.00,317.23 1122.73,314.76 C1123.46,312.29 1124.68,308.62 1125.06,307.40" fill="none" stroke="#8b807a" stroke-width="0.92" stroke-linecap="round" opacity="0.7"/>
<path d="M1049.18,354.19 C1049.42,352.67 1050.07,348.10 1050.62,345.09 C1051.16,342.07 1051.78,339.07 1052.45,336.09 C1053.13,333.11 1053.87,330.14 1054.68,327.20 C1055.48,324.26 1056.35,321.33 1057.28,318.43 C1058.21,315.53 1059.21,312.65 1060.26,309.79 C1061.32,306.93 1062.44,304.09 1063.61,301.28 C1064.79,298.46 1066.71,294.30 1067.32,292.90 L1067.32,292.90 C1066.89,294.36 1065.56,298.74 1064.73,301.67 C1063.91,304.59 1063.13,307.52 1062.38,310.45 C1061.64,313.38 1060.94,316.31 1060.27,319.25 C1059.60,322.19 1058.97,325.13 1058.38,328.08 C1057.79,331.03 1057.24,333.98 1056.72,336.95 C1056.20,339.91 1055.71,342.88 1055.26,345.86 C1054.81,348.84 1054.23,353.33 1054.02,354.82 Q1051.20,356.06 1049.18,354.19Z" fill="#40342f"/><path d="M1051.00,354.42 C1051.22,352.92 1051.85,348.38 1052.36,345.38 C1052.87,342.37 1053.43,339.38 1054.05,336.41 C1054.67,333.44 1055.34,330.48 1056.07,327.53 C1056.79,324.59 1057.57,321.66 1058.40,318.74 C1059.23,315.82 1060.62,311.49 1061.06,310.04" fill="none" stroke="#8b807a" stroke-width="0.92" stroke-linecap="round" opacity="0.7"/>
<path d="M1081.93,356.61 C1082.15,355.25 1082.75,351.16 1083.25,348.46 C1083.75,345.76 1084.32,343.07 1084.94,340.40 C1085.56,337.73 1086.25,335.08 1086.99,332.45 C1087.73,329.82 1088.53,327.20 1089.38,324.61 C1090.24,322.01 1091.16,319.44 1092.13,316.88 C1093.10,314.33 1094.12,311.80 1095.20,309.29 C1096.28,306.78 1098.04,303.06 1098.61,301.82 L1098.61,301.82 C1098.23,303.13 1097.05,307.06 1096.32,309.68 C1095.59,312.30 1094.90,314.92 1094.24,317.55 C1093.58,320.18 1092.96,322.80 1092.37,325.43 C1091.78,328.07 1091.22,330.70 1090.69,333.34 C1090.16,335.98 1089.67,338.62 1089.20,341.27 C1088.74,343.92 1088.30,346.58 1087.89,349.24 C1087.49,351.91 1086.95,355.92 1086.76,357.26 Q1083.94,358.49 1081.93,356.61Z" fill="#40342f"/><path d="M1083.74,356.85 C1083.95,355.50 1084.53,351.44 1084.99,348.75 C1085.46,346.07 1085.97,343.39 1086.54,340.73 C1087.10,338.07 1087.71,335.42 1088.38,332.78 C1089.04,330.15 1089.75,327.53 1090.50,324.92 C1091.26,322.31 1092.52,318.43 1092.92,317.13" fill="none" stroke="#8b807a" stroke-width="0.92" stroke-linecap="round" opacity="0.7"/>
</g>
<ellipse cx="1072.20" cy="322.90" rx="71.30" ry="62.40" fill="none" stroke="#4a3b33" stroke-width="1.8"/>
<clipPath id="cpB"><ellipse cx="1288.50" cy="322.90" rx="71.30" ry="62.40"/></clipPath>
<ellipse cx="1288.50" cy="322.90" rx="71.30" ry="62.40" fill="#f8d4ba"/>
<g clip-path="url(#cpB)">
<g filter="url(#fSh)">
<ellipse cx="1236.82" cy="310.26" rx="8.17" ry="2.84" transform="rotate(-42 1236.82 310.26)" fill="#c87430" opacity="0.62"/>
<ellipse cx="1244.97" cy="340.70" rx="8.92" ry="3.08" transform="rotate(-42 1244.97 340.70)" fill="#c87430" opacity="0.62"/>
<ellipse cx="1266.38" cy="317.00" rx="8.67" ry="3.00" transform="rotate(-42 1266.38 317.00)" fill="#c87430" opacity="0.62"/>
<ellipse cx="1266.27" cy="279.26" rx="7.42" ry="2.60" transform="rotate(-42 1266.27 279.26)" fill="#c87430" opacity="0.62"/>
<ellipse cx="1281.42" cy="292.03" rx="8.17" ry="2.84" transform="rotate(-42 1281.42 292.03)" fill="#c87430" opacity="0.62"/>
<ellipse cx="1274.81" cy="351.08" rx="9.41" ry="3.24" transform="rotate(-42 1274.81 351.08)" fill="#c87430" opacity="0.62"/>
<ellipse cx="1295.46" cy="326.68" rx="8.92" ry="3.08" transform="rotate(-42 1295.46 326.68)" fill="#c87430" opacity="0.62"/>
<ellipse cx="1302.73" cy="273.36" rx="7.42" ry="2.60" transform="rotate(-42 1302.73 273.36)" fill="#c87430" opacity="0.62"/>
<ellipse cx="1312.28" cy="298.20" rx="8.17" ry="2.84" transform="rotate(-42 1312.28 298.20)" fill="#c87430" opacity="0.62"/>
<ellipse cx="1305.66" cy="357.26" rx="9.41" ry="3.24" transform="rotate(-42 1305.66 357.26)" fill="#c87430" opacity="0.62"/>
<ellipse cx="1328.17" cy="283.89" rx="7.67" ry="2.68" transform="rotate(-42 1328.17 283.89)" fill="#c87430" opacity="0.62"/>
<ellipse cx="1328.93" cy="318.40" rx="8.67" ry="3.00" transform="rotate(-42 1328.93 318.40)" fill="#c87430" opacity="0.62"/>
<ellipse cx="1338.94" cy="343.51" rx="8.92" ry="3.08" transform="rotate(-42 1338.94 343.51)" fill="#c87430" opacity="0.62"/>
<ellipse cx="1354.82" cy="318.39" rx="7.67" ry="2.68" transform="rotate(-42 1354.82 318.39)" fill="#c87430" opacity="0.62"/>
</g>
<path d="M1294.51,277.37 C1294.51,277.01 1294.47,275.91 1294.50,275.18 C1294.53,274.46 1294.59,273.73 1294.67,273.01 C1294.76,272.28 1294.87,271.56 1295.02,270.85 C1295.16,270.14 1295.33,269.43 1295.53,268.72 C1295.72,268.02 1295.95,267.33 1296.20,266.64 C1296.45,265.95 1296.72,265.27 1297.02,264.60 C1297.32,263.93 1297.83,262.95 1297.99,262.62 L1297.99,262.62 C1298.04,262.98 1298.20,264.07 1298.30,264.79 C1298.40,265.50 1298.50,266.20 1298.59,266.90 C1298.69,267.60 1298.79,268.29 1298.88,268.97 C1298.98,269.66 1299.07,270.34 1299.15,271.02 C1299.24,271.69 1299.32,272.36 1299.40,273.04 C1299.48,273.71 1299.55,274.37 1299.62,275.04 C1299.68,275.71 1299.77,276.71 1299.80,277.05 Q1297.05,278.96 1294.51,277.37Z" fill="#40342f"/><path d="M1296.49,277.25 C1296.48,276.90 1296.43,275.84 1296.42,275.13 C1296.41,274.43 1296.42,273.72 1296.45,273.02 C1296.47,272.31 1296.51,271.61 1296.57,270.91 C1296.62,270.21 1296.70,269.51 1296.79,268.82 C1296.87,268.12 1297.05,267.08 1297.10,266.74" fill="none" stroke="#8b807a" stroke-width="1.00" stroke-linecap="round" opacity="0.7"/>
<path d="M1258.04,283.19 C1258.05,282.78 1258.04,281.56 1258.09,280.75 C1258.14,279.94 1258.22,279.14 1258.33,278.34 C1258.44,277.53 1258.58,276.73 1258.74,275.94 C1258.91,275.15 1259.11,274.37 1259.34,273.59 C1259.56,272.81 1259.82,272.04 1260.10,271.28 C1260.38,270.52 1260.68,269.77 1261.02,269.02 C1261.35,268.28 1261.91,267.20 1262.09,266.83 L1262.09,266.83 C1262.12,267.23 1262.22,268.45 1262.28,269.24 C1262.35,270.04 1262.42,270.83 1262.48,271.61 C1262.55,272.39 1262.62,273.17 1262.68,273.93 C1262.75,274.70 1262.81,275.47 1262.88,276.23 C1262.94,276.99 1263.00,277.74 1263.05,278.50 C1263.11,279.25 1263.16,280.00 1263.21,280.76 C1263.25,281.51 1263.31,282.64 1263.34,283.01 Q1260.54,284.84 1258.04,283.19Z" fill="#40342f"/><path d="M1260.03,283.12 C1260.02,282.73 1260.00,281.54 1260.01,280.75 C1260.02,279.97 1260.05,279.18 1260.10,278.40 C1260.15,277.61 1260.21,276.83 1260.29,276.05 C1260.38,275.27 1260.48,274.49 1260.59,273.72 C1260.71,272.94 1260.93,271.79 1260.99,271.40" fill="none" stroke="#8b807a" stroke-width="1.00" stroke-linecap="round" opacity="0.7"/>
<path d="M1319.65,287.74 C1319.69,287.32 1319.78,286.05 1319.90,285.21 C1320.02,284.37 1320.17,283.54 1320.34,282.71 C1320.52,281.89 1320.74,281.07 1320.98,280.26 C1321.22,279.45 1321.49,278.64 1321.79,277.85 C1322.08,277.06 1322.41,276.28 1322.77,275.51 C1323.12,274.74 1323.50,273.98 1323.91,273.24 C1324.31,272.49 1324.99,271.40 1325.20,271.04 L1325.20,271.04 C1325.20,271.46 1325.20,272.73 1325.20,273.57 C1325.20,274.40 1325.21,275.23 1325.21,276.05 C1325.22,276.87 1325.22,277.68 1325.23,278.49 C1325.23,279.29 1325.24,280.09 1325.24,280.89 C1325.24,281.69 1325.24,282.48 1325.23,283.27 C1325.23,284.06 1325.22,284.85 1325.20,285.63 C1325.19,286.42 1325.16,287.60 1325.15,287.99 Q1322.10,289.66 1319.65,287.74Z" fill="#40342f"/><path d="M1321.71,287.84 C1321.74,287.43 1321.81,286.19 1321.89,285.37 C1321.97,284.55 1322.06,283.73 1322.18,282.92 C1322.29,282.11 1322.42,281.30 1322.57,280.49 C1322.72,279.69 1322.89,278.89 1323.08,278.09 C1323.26,277.29 1323.58,276.11 1323.68,275.71" fill="none" stroke="#8b807a" stroke-width="1.04" stroke-linecap="round" opacity="0.7"/>
<path d="M1272.31,296.08 C1272.40,295.24 1272.62,292.74 1272.85,291.08 C1273.08,289.43 1273.35,287.78 1273.67,286.14 C1273.99,284.51 1274.36,282.88 1274.76,281.27 C1275.17,279.66 1275.63,278.06 1276.13,276.47 C1276.62,274.89 1277.16,273.32 1277.75,271.76 C1278.33,270.20 1278.95,268.66 1279.62,267.14 C1280.28,265.62 1281.37,263.38 1281.73,262.62 L1281.73,262.62 C1281.60,263.44 1281.23,265.90 1281.00,267.53 C1280.78,269.16 1280.57,270.78 1280.37,272.40 C1280.17,274.02 1279.99,275.64 1279.82,277.25 C1279.64,278.86 1279.48,280.46 1279.33,282.07 C1279.18,283.67 1279.05,285.27 1278.92,286.87 C1278.78,288.47 1278.66,290.07 1278.55,291.68 C1278.44,293.28 1278.29,295.69 1278.23,296.49 Q1274.90,298.21 1272.31,296.08Z" fill="#40342f"/><path d="M1274.53,296.23 C1274.61,295.41 1274.80,292.94 1274.99,291.31 C1275.17,289.67 1275.39,288.04 1275.64,286.42 C1275.89,284.79 1276.17,283.18 1276.48,281.57 C1276.79,279.96 1277.13,278.36 1277.51,276.76 C1277.89,275.17 1278.53,272.80 1278.73,272.00" fill="none" stroke="#8b807a" stroke-width="1.12" stroke-linecap="round" opacity="0.7"/>
<path d="M1303.18,302.17 C1303.29,301.28 1303.60,298.63 1303.89,296.87 C1304.17,295.12 1304.51,293.38 1304.89,291.65 C1305.27,289.92 1305.70,288.20 1306.18,286.50 C1306.65,284.79 1307.17,283.10 1307.74,281.43 C1308.30,279.76 1308.91,278.10 1309.57,276.46 C1310.22,274.82 1310.91,273.19 1311.65,271.59 C1312.39,269.98 1313.59,267.62 1313.98,266.83 L1313.98,266.83 C1313.82,267.69 1313.33,270.29 1313.02,272.02 C1312.72,273.74 1312.44,275.46 1312.17,277.17 C1311.90,278.89 1311.64,280.60 1311.40,282.30 C1311.16,284.01 1310.94,285.71 1310.72,287.42 C1310.51,289.12 1310.30,290.82 1310.11,292.52 C1309.92,294.22 1309.74,295.92 1309.57,297.63 C1309.40,299.33 1309.16,301.89 1309.08,302.74 Q1305.71,304.37 1303.18,302.17Z" fill="#40342f"/><path d="M1305.39,302.38 C1305.50,301.51 1305.77,298.89 1306.02,297.16 C1306.26,295.42 1306.54,293.69 1306.85,291.97 C1307.16,290.26 1307.50,288.54 1307.88,286.84 C1308.26,285.14 1308.67,283.44 1309.11,281.76 C1309.56,280.07 1310.30,277.57 1310.54,276.73" fill="none" stroke="#8b807a" stroke-width="1.12" stroke-linecap="round" opacity="0.7"/>
<path d="M1227.73,314.13 C1227.88,313.26 1228.27,310.63 1228.61,308.90 C1228.96,307.18 1229.35,305.46 1229.78,303.75 C1230.22,302.05 1230.71,300.36 1231.23,298.69 C1231.76,297.02 1232.34,295.36 1232.95,293.72 C1233.57,292.08 1234.23,290.45 1234.94,288.85 C1235.64,287.25 1236.39,285.66 1237.17,284.09 C1237.96,282.53 1239.24,280.23 1239.65,279.45 L1239.65,279.45 C1239.46,280.31 1238.89,282.87 1238.53,284.57 C1238.18,286.27 1237.84,287.96 1237.51,289.65 C1237.19,291.34 1236.88,293.03 1236.59,294.71 C1236.29,296.40 1236.01,298.08 1235.75,299.76 C1235.48,301.44 1235.22,303.12 1234.97,304.80 C1234.73,306.48 1234.49,308.16 1234.27,309.85 C1234.04,311.53 1233.72,314.06 1233.62,314.90 Q1230.19,316.41 1227.73,314.13Z" fill="#40342f"/><path d="M1229.94,314.42 C1230.07,313.56 1230.43,310.97 1230.73,309.26 C1231.03,307.55 1231.36,305.84 1231.73,304.15 C1232.10,302.45 1232.49,300.77 1232.93,299.09 C1233.36,297.42 1233.82,295.75 1234.32,294.09 C1234.81,292.43 1235.64,289.97 1235.90,289.15" fill="none" stroke="#8b807a" stroke-width="1.12" stroke-linecap="round" opacity="0.7"/>
<path d="M1256.69,321.12 C1256.92,319.73 1257.52,315.56 1258.04,312.80 C1258.55,310.05 1259.13,307.31 1259.78,304.59 C1260.42,301.87 1261.14,299.17 1261.91,296.49 C1262.68,293.81 1263.52,291.15 1264.42,288.52 C1265.32,285.88 1266.29,283.27 1267.31,280.68 C1268.33,278.09 1269.41,275.52 1270.56,272.98 C1271.70,270.44 1273.55,266.69 1274.15,265.43 L1274.15,265.43 C1273.79,266.77 1272.69,270.80 1272.01,273.49 C1271.33,276.17 1270.69,278.85 1270.07,281.54 C1269.46,284.22 1268.87,286.90 1268.32,289.58 C1267.77,292.27 1267.24,294.95 1266.75,297.64 C1266.25,300.33 1265.78,303.01 1265.34,305.71 C1264.90,308.40 1264.48,311.10 1264.09,313.81 C1263.70,316.51 1263.18,320.59 1263.00,321.94 Q1259.33,323.56 1256.69,321.12Z" fill="#40342f"/><path d="M1259.06,321.43 C1259.27,320.05 1259.84,315.91 1260.31,313.18 C1260.78,310.44 1261.29,307.72 1261.86,305.01 C1262.43,302.30 1263.05,299.60 1263.72,296.92 C1264.39,294.24 1265.11,291.57 1265.88,288.92 C1266.66,286.26 1267.93,282.32 1268.34,281.00" fill="none" stroke="#8b807a" stroke-width="1.20" stroke-linecap="round" opacity="0.7"/>
<path d="M1346.30,322.11 C1346.38,321.56 1346.58,319.92 1346.77,318.83 C1346.96,317.75 1347.19,316.67 1347.45,315.60 C1347.71,314.54 1348.01,313.48 1348.34,312.43 C1348.67,311.38 1349.03,310.35 1349.42,309.33 C1349.82,308.30 1350.25,307.29 1350.71,306.30 C1351.17,305.30 1351.66,304.32 1352.17,303.35 C1352.69,302.38 1353.54,300.97 1353.81,300.49 L1353.81,300.49 C1353.75,301.03 1353.57,302.67 1353.45,303.74 C1353.34,304.82 1353.23,305.89 1353.13,306.95 C1353.02,308.02 1352.93,309.08 1352.83,310.13 C1352.74,311.18 1352.65,312.23 1352.56,313.28 C1352.47,314.32 1352.38,315.36 1352.30,316.40 C1352.21,317.44 1352.13,318.48 1352.05,319.52 C1351.96,320.56 1351.83,322.11 1351.79,322.63 Q1348.66,324.15 1346.30,322.11Z" fill="#40342f"/><path d="M1348.36,322.30 C1348.42,321.77 1348.60,320.16 1348.75,319.09 C1348.90,318.02 1349.07,316.96 1349.27,315.90 C1349.46,314.85 1349.68,313.79 1349.92,312.75 C1350.16,311.70 1350.42,310.66 1350.70,309.63 C1350.98,308.59 1351.46,307.06 1351.61,306.54" fill="none" stroke="#8b807a" stroke-width="1.04" stroke-linecap="round" opacity="0.7"/>
<path d="M1319.24,322.56 C1319.41,321.41 1319.88,317.96 1320.29,315.69 C1320.69,313.41 1321.16,311.15 1321.68,308.91 C1322.21,306.66 1322.79,304.43 1323.42,302.22 C1324.06,300.01 1324.75,297.82 1325.50,295.64 C1326.24,293.47 1327.04,291.32 1327.89,289.18 C1328.74,287.05 1329.65,284.94 1330.60,282.85 C1331.56,280.76 1333.12,277.68 1333.62,276.65 L1333.62,276.65 C1333.36,277.76 1332.56,281.11 1332.07,283.34 C1331.57,285.57 1331.11,287.79 1330.67,290.01 C1330.22,292.23 1329.80,294.45 1329.40,296.66 C1329.00,298.88 1328.63,301.09 1328.27,303.31 C1327.91,305.53 1327.58,307.74 1327.26,309.96 C1326.94,312.18 1326.64,314.40 1326.36,316.62 C1326.07,318.85 1325.69,322.19 1325.56,323.31 Q1321.90,324.97 1319.24,322.56Z" fill="#40342f"/><path d="M1321.61,322.84 C1321.77,321.70 1322.20,318.29 1322.56,316.04 C1322.92,313.78 1323.33,311.54 1323.77,309.30 C1324.22,307.07 1324.71,304.84 1325.24,302.63 C1325.77,300.42 1326.35,298.22 1326.96,296.03 C1327.58,293.84 1328.60,290.58 1328.93,289.49" fill="none" stroke="#8b807a" stroke-width="1.20" stroke-linecap="round" opacity="0.7"/>
<path d="M1285.49,330.85 C1285.78,329.22 1286.59,324.32 1287.25,321.08 C1287.92,317.84 1288.66,314.62 1289.47,311.43 C1290.28,308.24 1291.17,305.06 1292.13,301.92 C1293.09,298.77 1294.12,295.65 1295.22,292.55 C1296.32,289.46 1297.49,286.39 1298.73,283.34 C1299.97,280.30 1301.28,277.29 1302.65,274.30 C1304.02,271.31 1306.25,266.91 1306.97,265.43 L1306.97,265.43 C1306.50,267.00 1305.05,271.71 1304.14,274.85 C1303.24,278.00 1302.39,281.14 1301.56,284.29 C1300.74,287.43 1299.96,290.58 1299.22,293.73 C1298.48,296.89 1297.77,300.04 1297.10,303.20 C1296.43,306.36 1295.80,309.53 1295.19,312.70 C1294.59,315.87 1294.03,319.05 1293.49,322.24 C1292.96,325.43 1292.24,330.24 1291.99,331.84 Q1288.16,333.44 1285.49,330.85Z" fill="#40342f"/><path d="M1287.93,331.22 C1288.20,329.61 1288.98,324.74 1289.59,321.52 C1290.21,318.30 1290.88,315.09 1291.62,311.91 C1292.35,308.72 1293.14,305.55 1293.99,302.40 C1294.84,299.25 1295.75,296.11 1296.72,293.00 C1297.69,289.88 1299.28,285.25 1299.79,283.70" fill="none" stroke="#8b807a" stroke-width="1.24" stroke-linecap="round" opacity="0.7"/>
<path d="M1234.97,345.08 C1235.18,343.29 1235.73,337.90 1236.23,334.34 C1236.73,330.77 1237.31,327.22 1237.97,323.70 C1238.63,320.17 1239.38,316.66 1240.19,313.17 C1241.01,309.69 1241.91,306.22 1242.89,302.78 C1243.86,299.33 1244.91,295.91 1246.04,292.52 C1247.16,289.12 1248.36,285.75 1249.64,282.40 C1250.91,279.06 1253.00,274.10 1253.67,272.44 L1253.67,272.44 C1253.26,274.18 1251.95,279.39 1251.16,282.86 C1250.37,286.34 1249.63,289.81 1248.92,293.28 C1248.22,296.76 1247.57,300.23 1246.95,303.71 C1246.34,307.19 1245.77,310.67 1245.24,314.15 C1244.70,317.63 1244.22,321.12 1243.76,324.61 C1243.31,328.11 1242.90,331.61 1242.53,335.12 C1242.15,338.62 1241.69,343.91 1241.52,345.66 Q1237.80,347.49 1234.97,345.08Z" fill="#40342f"/><path d="M1237.43,345.30 C1237.62,343.52 1238.14,338.17 1238.59,334.63 C1239.04,331.09 1239.56,327.56 1240.14,324.04 C1240.73,320.53 1241.37,317.03 1242.09,313.54 C1242.80,310.05 1243.57,306.58 1244.41,303.13 C1245.25,299.67 1246.67,294.52 1247.12,292.80" fill="none" stroke="#8b807a" stroke-width="1.24" stroke-linecap="round" opacity="0.7"/>
<path d="M1328.96,347.75 C1329.19,346.33 1329.80,342.06 1330.32,339.23 C1330.85,336.41 1331.44,333.60 1332.10,330.82 C1332.76,328.03 1333.49,325.26 1334.28,322.52 C1335.07,319.77 1335.93,317.04 1336.85,314.34 C1337.77,311.64 1338.75,308.96 1339.80,306.30 C1340.84,303.65 1341.95,301.02 1343.12,298.41 C1344.29,295.81 1346.19,291.96 1346.80,290.67 L1346.80,290.67 C1346.44,292.05 1345.32,296.18 1344.63,298.93 C1343.94,301.69 1343.28,304.44 1342.65,307.19 C1342.03,309.94 1341.44,312.69 1340.87,315.44 C1340.31,318.19 1339.78,320.94 1339.28,323.69 C1338.77,326.45 1338.30,329.20 1337.85,331.96 C1337.40,334.73 1336.98,337.49 1336.59,340.26 C1336.19,343.03 1335.66,347.21 1335.47,348.60 Q1331.68,350.28 1328.96,347.75Z" fill="#40342f"/><path d="M1331.40,348.07 C1331.61,346.66 1332.20,342.42 1332.67,339.62 C1333.15,336.81 1333.68,334.02 1334.26,331.25 C1334.84,328.47 1335.47,325.71 1336.15,322.96 C1336.84,320.21 1337.57,317.47 1338.36,314.75 C1339.14,312.03 1340.45,307.99 1340.87,306.64" fill="none" stroke="#8b807a" stroke-width="1.24" stroke-linecap="round" opacity="0.7"/>
<path d="M1264.23,355.58 C1264.59,353.28 1265.58,346.36 1266.40,341.78 C1267.22,337.21 1268.15,332.66 1269.17,328.14 C1270.18,323.62 1271.30,319.13 1272.51,314.67 C1273.73,310.21 1275.04,305.77 1276.44,301.37 C1277.84,296.97 1279.34,292.59 1280.92,288.25 C1282.51,283.92 1284.19,279.61 1285.96,275.34 C1287.73,271.07 1290.61,264.74 1291.54,262.62 L1291.54,262.62 C1290.88,264.83 1288.83,271.47 1287.57,275.90 C1286.30,280.33 1285.10,284.76 1283.96,289.20 C1282.82,293.64 1281.74,298.09 1280.72,302.54 C1279.70,307.00 1278.74,311.46 1277.83,315.93 C1276.93,320.40 1276.08,324.88 1275.28,329.37 C1274.49,333.87 1273.75,338.37 1273.07,342.89 C1272.38,347.41 1271.48,354.22 1271.17,356.49 Q1267.13,358.27 1264.23,355.58Z" fill="#40342f"/><path d="M1266.83,355.92 C1267.18,353.63 1268.13,346.75 1268.90,342.20 C1269.67,337.65 1270.53,333.11 1271.46,328.61 C1272.39,324.10 1273.41,319.61 1274.51,315.14 C1275.61,310.67 1276.78,306.23 1278.04,301.81 C1279.30,297.39 1281.39,290.81 1282.06,288.61" fill="none" stroke="#8b807a" stroke-width="1.32" stroke-linecap="round" opacity="0.7"/>
<path d="M1295.09,361.73 C1295.46,359.48 1296.46,352.72 1297.29,348.26 C1298.12,343.79 1299.06,339.35 1300.08,334.94 C1301.10,330.53 1302.23,326.14 1303.44,321.78 C1304.65,317.43 1305.96,313.10 1307.36,308.81 C1308.76,304.51 1310.26,300.25 1311.84,296.02 C1313.42,291.79 1315.09,287.59 1316.85,283.43 C1318.61,279.26 1321.47,273.10 1322.40,271.04 L1322.40,271.04 C1321.74,273.20 1319.71,279.67 1318.45,283.99 C1317.20,288.32 1316.01,292.65 1314.87,296.98 C1313.73,301.32 1312.66,305.66 1311.64,310.01 C1310.62,314.36 1309.66,318.71 1308.75,323.08 C1307.84,327.44 1306.99,331.82 1306.19,336.20 C1305.39,340.59 1304.65,344.99 1303.95,349.40 C1303.26,353.81 1302.34,360.46 1302.02,362.68 Q1297.97,364.44 1295.09,361.73Z" fill="#40342f"/><path d="M1297.69,362.08 C1298.04,359.85 1299.01,353.13 1299.79,348.69 C1300.57,344.24 1301.43,339.82 1302.37,335.41 C1303.31,331.01 1304.33,326.63 1305.43,322.27 C1306.53,317.91 1307.71,313.57 1308.97,309.26 C1310.22,304.94 1312.31,298.53 1312.97,296.38" fill="none" stroke="#8b807a" stroke-width="1.32" stroke-linecap="round" opacity="0.7"/>
</g>
<ellipse cx="1288.50" cy="322.90" rx="71.30" ry="62.40" fill="none" stroke="#4a3b33" stroke-width="1.8"/>
<path d="M1150.70,313.10 L1193.90,313.10 L1193.90,303.90 L1211.60,320.80 L1193.90,337.70 L1193.90,328.50 L1150.70,328.50Z" fill="#4a3c34"/>
<path d="M1150.70,468.30 L1193.90,468.30 L1193.90,459.50 L1211.60,476.00 L1193.90,492.50 L1193.90,483.70 L1150.70,483.70Z" fill="#4a3c34"/>
<clipPath id="cpS1"><circle cx="1073.4" cy="476.0" r="64.5"/></clipPath>
<clipPath id="cpS1b"><rect x="-33.8" y="-90" width="67.6" height="180"/></clipPath>
<circle cx="1073.4" cy="476.0" r="65.0" fill="#fbf8f1"/>
<g clip-path="url(#cpS1)">
<g transform="translate(1072.00 474.40) rotate(18.3)">
<rect x="-33.3" y="-80" width="66.6" height="160" fill="url(#gS1)"/>
<g clip-path="url(#cpS1b)"><path d="M-37.30,73.62 Q-36.67,79.63 -32.04,81.13 Q-30.36,83.99 -26.58,85.73 Q-25.34,81.51 -21.43,80.91 Q-17.53,80.11 -16.27,72.34 Q-15.48,78.03 -9.65,79.53 Q-7.53,82.21 -1.12,83.95 Q0.24,80.01 4.54,79.41 Q8.62,78.61 10.21,71.35 Q11.02,77.77 16.98,79.27 Q19.15,82.39 24.67,84.13 Q26.19,80.78 30.99,80.18 Q35.67,79.38 37.30,73.17 L33.30,69.17 L33.30,49.00 L-33.30,49.00 L-33.30,69.62Z" fill="#4a2c1d" opacity="0.85" filter="url(#fSc)" transform="translate(1 4.4)"/></g>
<path d="M-37.30,73.62 Q-36.67,79.63 -32.04,81.13 Q-30.36,83.99 -26.58,85.73 Q-25.34,81.51 -21.43,80.91 Q-17.53,80.11 -16.27,72.34 Q-15.48,78.03 -9.65,79.53 Q-7.53,82.21 -1.12,83.95 Q0.24,80.01 4.54,79.41 Q8.62,78.61 10.21,71.35 Q11.02,77.77 16.98,79.27 Q19.15,82.39 24.67,84.13 Q26.19,80.78 30.99,80.18 Q35.67,79.38 37.30,73.17 L33.30,69.17 L33.30,49.00 L-33.30,49.00 L-33.30,69.62Z" fill="url(#gS1r)"/>
<path d="M-37.30,73.62 Q-36.67,79.63 -32.04,81.13 Q-30.36,83.99 -26.58,85.73 Q-25.34,81.51 -21.43,80.91 Q-17.53,80.11 -16.27,72.34 Q-15.48,78.03 -9.65,79.53 Q-7.53,82.21 -1.12,83.95 Q0.24,80.01 4.54,79.41 Q8.62,78.61 10.21,71.35 Q11.02,77.77 16.98,79.27 Q19.15,82.39 24.67,84.13 Q26.19,80.78 30.99,80.18 Q35.67,79.38 37.30,73.17" fill="none" stroke="#c9ae9b" stroke-width="0.7" opacity="0.55"/>
<g clip-path="url(#cpS1b)"><path d="M-37.30,51.36 Q-36.53,57.47 -30.90,58.97 Q-28.85,61.89 -22.26,63.63 Q-20.99,59.40 -16.98,58.80 Q-13.23,58.00 -11.69,50.22 Q-10.92,56.67 -5.26,58.17 Q-3.20,61.30 2.39,63.04 Q3.79,60.06 8.22,59.46 Q12.50,58.66 14.05,53.10 Q14.74,58.91 19.86,60.41 Q21.72,63.14 28.01,64.88 Q29.12,60.67 32.65,60.07 Q35.90,59.27 37.30,51.51 L33.30,47.51 L33.30,28.00 L-33.30,28.00 L-33.30,47.36Z" fill="#4a2c1d" opacity="0.85" filter="url(#fSc)" transform="translate(1 4.4)"/></g>
<path d="M-37.30,51.36 Q-36.53,57.47 -30.90,58.97 Q-28.85,61.89 -22.26,63.63 Q-20.99,59.40 -16.98,58.80 Q-13.23,58.00 -11.69,50.22 Q-10.92,56.67 -5.26,58.17 Q-3.20,61.30 2.39,63.04 Q3.79,60.06 8.22,59.46 Q12.50,58.66 14.05,53.10 Q14.74,58.91 19.86,60.41 Q21.72,63.14 28.01,64.88 Q29.12,60.67 32.65,60.07 Q35.90,59.27 37.30,51.51 L33.30,47.51 L33.30,28.00 L-33.30,28.00 L-33.30,47.36Z" fill="url(#gS1r)"/>
<path d="M-37.30,51.36 Q-36.53,57.47 -30.90,58.97 Q-28.85,61.89 -22.26,63.63 Q-20.99,59.40 -16.98,58.80 Q-13.23,58.00 -11.69,50.22 Q-10.92,56.67 -5.26,58.17 Q-3.20,61.30 2.39,63.04 Q3.79,60.06 8.22,59.46 Q12.50,58.66 14.05,53.10 Q14.74,58.91 19.86,60.41 Q21.72,63.14 28.01,64.88 Q29.12,60.67 32.65,60.07 Q35.90,59.27 37.30,51.51" fill="none" stroke="#c9ae9b" stroke-width="0.7" opacity="0.55"/>
<g clip-path="url(#cpS1b)"><path d="M-37.30,30.01 Q-36.51,37.04 -30.70,38.54 Q-28.59,42.03 -21.79,43.77 Q-20.49,40.25 -16.35,39.65 Q-12.50,38.85 -10.92,32.33 Q-10.18,37.58 -4.80,39.08 Q-2.84,41.48 2.57,43.22 Q3.89,39.85 8.06,39.25 Q12.09,38.45 13.56,32.19 Q14.27,37.18 19.49,38.68 Q21.39,40.93 28.15,42.67 Q29.25,38.42 32.72,37.82 Q35.88,37.02 37.30,29.20 L33.30,25.20 L33.30,7.00 L-33.30,7.00 L-33.30,26.01Z" fill="#4a2c1d" opacity="0.85" filter="url(#fSc)" transform="translate(1 4.4)"/></g>
<path d="M-37.30,30.01 Q-36.51,37.04 -30.70,38.54 Q-28.59,42.03 -21.79,43.77 Q-20.49,40.25 -16.35,39.65 Q-12.50,38.85 -10.92,32.33 Q-10.18,37.58 -4.80,39.08 Q-2.84,41.48 2.57,43.22 Q3.89,39.85 8.06,39.25 Q12.09,38.45 13.56,32.19 Q14.27,37.18 19.49,38.68 Q21.39,40.93 28.15,42.67 Q29.25,38.42 32.72,37.82 Q35.88,37.02 37.30,29.20 L33.30,25.20 L33.30,7.00 L-33.30,7.00 L-33.30,26.01Z" fill="url(#gS1r)"/>
<path d="M-37.30,30.01 Q-36.51,37.04 -30.70,38.54 Q-28.59,42.03 -21.79,43.77 Q-20.49,40.25 -16.35,39.65 Q-12.50,38.85 -10.92,32.33 Q-10.18,37.58 -4.80,39.08 Q-2.84,41.48 2.57,43.22 Q3.89,39.85 8.06,39.25 Q12.09,38.45 13.56,32.19 Q14.27,37.18 19.49,38.68 Q21.39,40.93 28.15,42.67 Q29.25,38.42 32.72,37.82 Q35.88,37.02 37.30,29.20" fill="none" stroke="#c9ae9b" stroke-width="0.7" opacity="0.55"/>
<g clip-path="url(#cpS1b)"><path d="M-37.30,9.27 Q-36.44,14.96 -30.10,16.46 Q-27.79,19.13 -22.20,20.87 Q-20.56,17.98 -15.35,17.38 Q-10.22,16.58 -8.49,11.18 Q-7.94,16.02 -3.85,17.52 Q-2.37,19.66 2.92,21.40 Q3.78,17.52 6.50,16.92 Q8.96,16.12 10.08,8.94 Q10.89,15.62 16.88,17.12 Q19.06,20.39 27.18,22.13 Q28.40,18.93 32.24,18.33 Q35.67,17.53 37.30,11.56 L33.30,7.56 L33.30,-14.00 L-33.30,-14.00 L-33.30,5.27Z" fill="#4a2c1d" opacity="0.85" filter="url(#fSc)" transform="translate(1 4.4)"/></g>
<path d="M-37.30,9.27 Q-36.44,14.96 -30.10,16.46 Q-27.79,19.13 -22.20,20.87 Q-20.56,17.98 -15.35,17.38 Q-10.22,16.58 -8.49,11.18 Q-7.94,16.02 -3.85,17.52 Q-2.37,19.66 2.92,21.40 Q3.78,17.52 6.50,16.92 Q8.96,16.12 10.08,8.94 Q10.89,15.62 16.88,17.12 Q19.06,20.39 27.18,22.13 Q28.40,18.93 32.24,18.33 Q35.67,17.53 37.30,11.56 L33.30,7.56 L33.30,-14.00 L-33.30,-14.00 L-33.30,5.27Z" fill="url(#gS1r)"/>
<path d="M-37.30,9.27 Q-36.44,14.96 -30.10,16.46 Q-27.79,19.13 -22.20,20.87 Q-20.56,17.98 -15.35,17.38 Q-10.22,16.58 -8.49,11.18 Q-7.94,16.02 -3.85,17.52 Q-2.37,19.66 2.92,21.40 Q3.78,17.52 6.50,16.92 Q8.96,16.12 10.08,8.94 Q10.89,15.62 16.88,17.12 Q19.06,20.39 27.18,22.13 Q28.40,18.93 32.24,18.33 Q35.67,17.53 37.30,11.56" fill="none" stroke="#c9ae9b" stroke-width="0.7" opacity="0.55"/>
<g clip-path="url(#cpS1b)"><path d="M-37.30,-11.32 Q-36.66,-5.01 -32.01,-3.51 Q-30.31,-0.47 -23.23,1.27 Q-22.38,-2.70 -19.68,-3.30 Q-17.40,-4.10 -16.13,-11.42 Q-15.25,-5.54 -8.80,-4.04 Q-6.46,-1.25 3.48,0.49 Q4.64,-3.71 8.33,-4.31 Q11.42,-5.11 13.18,-12.84 Q13.91,-5.50 19.21,-4.00 Q21.14,-0.32 27.07,1.42 Q28.30,-3.30 32.19,-3.90 Q35.85,-4.70 37.30,-13.36 L33.30,-17.36 L33.30,-35.00 L-33.30,-35.00 L-33.30,-15.32Z" fill="#4a2c1d" opacity="0.85" filter="url(#fSc)" transform="translate(1 4.4)"/></g>
<path d="M-37.30,-11.32 Q-36.66,-5.01 -32.01,-3.51 Q-30.31,-0.47 -23.23,1.27 Q-22.38,-2.70 -19.68,-3.30 Q-17.40,-4.10 -16.13,-11.42 Q-15.25,-5.54 -8.80,-4.04 Q-6.46,-1.25 3.48,0.49 Q4.64,-3.71 8.33,-4.31 Q11.42,-5.11 13.18,-12.84 Q13.91,-5.50 19.21,-4.00 Q21.14,-0.32 27.07,1.42 Q28.30,-3.30 32.19,-3.90 Q35.85,-4.70 37.30,-13.36 L33.30,-17.36 L33.30,-35.00 L-33.30,-35.00 L-33.30,-15.32Z" fill="url(#gS1r)"/>
<path d="M-37.30,-11.32 Q-36.66,-5.01 -32.01,-3.51 Q-30.31,-0.47 -23.23,1.27 Q-22.38,-2.70 -19.68,-3.30 Q-17.40,-4.10 -16.13,-11.42 Q-15.25,-5.54 -8.80,-4.04 Q-6.46,-1.25 3.48,0.49 Q4.64,-3.71 8.33,-4.31 Q11.42,-5.11 13.18,-12.84 Q13.91,-5.50 19.21,-4.00 Q21.14,-0.32 27.07,1.42 Q28.30,-3.30 32.19,-3.90 Q35.85,-4.70 37.30,-13.36" fill="none" stroke="#c9ae9b" stroke-width="0.7" opacity="0.55"/>
<g clip-path="url(#cpS1b)"><path d="M-37.30,-33.29 Q-36.62,-26.36 -31.66,-24.86 Q-29.86,-21.44 -25.04,-19.70 Q-23.80,-23.10 -19.90,-23.70 Q-16.11,-24.50 -14.75,-30.82 Q-14.04,-25.35 -8.86,-23.85 Q-6.97,-21.32 1.20,-19.58 Q2.12,-23.25 5.02,-23.85 Q7.42,-24.65 8.83,-31.43 Q9.69,-25.34 15.95,-23.84 Q18.23,-20.93 23.39,-19.19 Q25.06,-23.94 30.35,-24.54 Q35.59,-25.34 37.30,-34.06 L33.30,-38.06 L33.30,-56.00 L-33.30,-56.00 L-33.30,-37.29Z" fill="#4a2c1d" opacity="0.85" filter="url(#fSc)" transform="translate(1 4.4)"/></g>
<path d="M-37.30,-33.29 Q-36.62,-26.36 -31.66,-24.86 Q-29.86,-21.44 -25.04,-19.70 Q-23.80,-23.10 -19.90,-23.70 Q-16.11,-24.50 -14.75,-30.82 Q-14.04,-25.35 -8.86,-23.85 Q-6.97,-21.32 1.20,-19.58 Q2.12,-23.25 5.02,-23.85 Q7.42,-24.65 8.83,-31.43 Q9.69,-25.34 15.95,-23.84 Q18.23,-20.93 23.39,-19.19 Q25.06,-23.94 30.35,-24.54 Q35.59,-25.34 37.30,-34.06 L33.30,-38.06 L33.30,-56.00 L-33.30,-56.00 L-33.30,-37.29Z" fill="url(#gS1r)"/>
<path d="M-37.30,-33.29 Q-36.62,-26.36 -31.66,-24.86 Q-29.86,-21.44 -25.04,-19.70 Q-23.80,-23.10 -19.90,-23.70 Q-16.11,-24.50 -14.75,-30.82 Q-14.04,-25.35 -8.86,-23.85 Q-6.97,-21.32 1.20,-19.58 Q2.12,-23.25 5.02,-23.85 Q7.42,-24.65 8.83,-31.43 Q9.69,-25.34 15.95,-23.84 Q18.23,-20.93 23.39,-19.19 Q25.06,-23.94 30.35,-24.54 Q35.59,-25.34 37.30,-34.06" fill="none" stroke="#c9ae9b" stroke-width="0.7" opacity="0.55"/>
<g clip-path="url(#cpS1b)"><path d="M-37.30,-55.40 Q-36.62,-48.00 -31.65,-46.50 Q-29.84,-42.78 -23.33,-41.04 Q-22.29,-44.56 -19.01,-45.16 Q-16.06,-45.96 -14.70,-52.49 Q-13.87,-46.13 -7.74,-44.63 Q-5.51,-41.54 -0.08,-39.80 Q1.51,-44.47 6.54,-45.07 Q11.49,-45.87 13.16,-54.43 Q13.89,-47.46 19.20,-45.96 Q21.13,-42.51 26.32,-40.77 Q27.64,-45.02 31.81,-45.62 Q35.85,-46.42 37.30,-54.23 L33.30,-58.23 L33.30,-77.00 L-33.30,-77.00 L-33.30,-59.40Z" fill="#4a2c1d" opacity="0.85" filter="url(#fSc)" transform="translate(1 4.4)"/></g>
<path d="M-37.30,-55.40 Q-36.62,-48.00 -31.65,-46.50 Q-29.84,-42.78 -23.33,-41.04 Q-22.29,-44.56 -19.01,-45.16 Q-16.06,-45.96 -14.70,-52.49 Q-13.87,-46.13 -7.74,-44.63 Q-5.51,-41.54 -0.08,-39.80 Q1.51,-44.47 6.54,-45.07 Q11.49,-45.87 13.16,-54.43 Q13.89,-47.46 19.20,-45.96 Q21.13,-42.51 26.32,-40.77 Q27.64,-45.02 31.81,-45.62 Q35.85,-46.42 37.30,-54.23 L33.30,-58.23 L33.30,-77.00 L-33.30,-77.00 L-33.30,-59.40Z" fill="url(#gS1r)"/>
<path d="M-37.30,-55.40 Q-36.62,-48.00 -31.65,-46.50 Q-29.84,-42.78 -23.33,-41.04 Q-22.29,-44.56 -19.01,-45.16 Q-16.06,-45.96 -14.70,-52.49 Q-13.87,-46.13 -7.74,-44.63 Q-5.51,-41.54 -0.08,-39.80 Q1.51,-44.47 6.54,-45.07 Q11.49,-45.87 13.16,-54.43 Q13.89,-47.46 19.20,-45.96 Q21.13,-42.51 26.32,-40.77 Q27.64,-45.02 31.81,-45.62 Q35.85,-46.42 37.30,-54.23" fill="none" stroke="#c9ae9b" stroke-width="0.7" opacity="0.55"/>
<g clip-path="url(#cpS1b)"><path d="M-37.30,-75.67 Q-36.65,-68.35 -31.88,-66.85 Q-30.14,-63.18 -23.70,-61.44 Q-22.73,-65.38 -19.65,-65.98 Q-16.91,-66.78 -15.61,-74.04 Q-14.78,-68.02 -8.70,-66.52 Q-6.49,-63.66 2.19,-61.92 Q3.37,-65.13 7.11,-65.73 Q10.37,-66.53 12.03,-72.50 Q12.79,-68.16 18.35,-66.66 Q20.37,-64.83 26.74,-63.09 Q28.01,-67.21 32.02,-67.81 Q35.78,-68.61 37.30,-76.21 L33.30,-80.21 L33.30,-98.00 L-33.30,-98.00 L-33.30,-79.67Z" fill="#4a2c1d" opacity="0.85" filter="url(#fSc)" transform="translate(1 4.4)"/></g>
<path d="M-37.30,-75.67 Q-36.65,-68.35 -31.88,-66.85 Q-30.14,-63.18 -23.70,-61.44 Q-22.73,-65.38 -19.65,-65.98 Q-16.91,-66.78 -15.61,-74.04 Q-14.78,-68.02 -8.70,-66.52 Q-6.49,-63.66 2.19,-61.92 Q3.37,-65.13 7.11,-65.73 Q10.37,-66.53 12.03,-72.50 Q12.79,-68.16 18.35,-66.66 Q20.37,-64.83 26.74,-63.09 Q28.01,-67.21 32.02,-67.81 Q35.78,-68.61 37.30,-76.21 L33.30,-80.21 L33.30,-98.00 L-33.30,-98.00 L-33.30,-79.67Z" fill="url(#gS1r)"/>
<path d="M-37.30,-75.67 Q-36.65,-68.35 -31.88,-66.85 Q-30.14,-63.18 -23.70,-61.44 Q-22.73,-65.38 -19.65,-65.98 Q-16.91,-66.78 -15.61,-74.04 Q-14.78,-68.02 -8.70,-66.52 Q-6.49,-63.66 2.19,-61.92 Q3.37,-65.13 7.11,-65.73 Q10.37,-66.53 12.03,-72.50 Q12.79,-68.16 18.35,-66.66 Q20.37,-64.83 26.74,-63.09 Q28.01,-67.21 32.02,-67.81 Q35.78,-68.61 37.30,-76.21" fill="none" stroke="#c9ae9b" stroke-width="0.7" opacity="0.55"/>
<rect x="-33.3" y="-80" width="66.6" height="160" fill="url(#gS1s)"/>
</g></g>
<circle cx="1073.4" cy="476.0" r="65.0" fill="none" stroke="#6b5548" stroke-width="1.9"/>
<clipPath id="cpS2"><circle cx="1286.0" cy="476.4" r="65.5"/></clipPath>
<circle cx="1286.0" cy="476.4" r="66.0" fill="#fdfcf6"/>
<g clip-path="url(#cpS2)">
<g transform="translate(1282.30 475.50) rotate(13.3)">
<rect x="-38.3" y="-85" width="76.6" height="170" fill="url(#gS2)"/>
<path d="M-39.30,-62.77 C-37.84,-62.94 -33.48,-63.83 -30.57,-63.75 C-27.66,-63.66 -24.74,-62.66 -21.83,-62.27 C-18.92,-61.88 -16.01,-61.25 -13.10,-61.40 C-10.19,-61.54 -7.28,-62.95 -4.37,-63.14 C-1.46,-63.33 1.46,-63.01 4.37,-62.53 C7.28,-62.06 10.19,-60.42 13.10,-60.28 C16.01,-60.14 18.92,-61.48 21.83,-61.71 C24.74,-61.93 27.66,-61.90 30.57,-61.63 C33.48,-61.36 37.84,-60.36 39.30,-60.10 L39.30,-57.00 L-39.30,-57.00Z" fill="url(#gS2l)"/>
<path d="M-39.30,-62.77 C-37.84,-62.94 -33.48,-63.83 -30.57,-63.75 C-27.66,-63.66 -24.74,-62.66 -21.83,-62.27 C-18.92,-61.88 -16.01,-61.25 -13.10,-61.40 C-10.19,-61.54 -7.28,-62.95 -4.37,-63.14 C-1.46,-63.33 1.46,-63.01 4.37,-62.53 C7.28,-62.06 10.19,-60.42 13.10,-60.28 C16.01,-60.14 18.92,-61.48 21.83,-61.71 C24.74,-61.93 27.66,-61.90 30.57,-61.63 C33.48,-61.36 37.84,-60.36 39.30,-60.10" fill="none" stroke="#56431f" stroke-width="0.8" opacity="0.75"/>
<path d="M-39.30,-51.53 C-37.84,-51.49 -33.48,-50.91 -30.57,-51.29 C-27.66,-51.67 -24.74,-53.84 -21.83,-53.83 C-18.92,-53.82 -16.01,-51.91 -13.10,-51.22 C-10.19,-50.54 -7.28,-49.62 -4.37,-49.72 C-1.46,-49.82 1.46,-51.53 4.37,-51.83 C7.28,-52.14 10.19,-51.89 13.10,-51.56 C16.01,-51.23 18.92,-49.93 21.83,-49.85 C24.74,-49.77 27.66,-50.84 30.57,-51.08 C33.48,-51.32 37.84,-51.27 39.30,-51.31 L39.30,-46.38 L-39.30,-46.38Z" fill="url(#gS2l)"/>
<path d="M-39.30,-51.53 C-37.84,-51.49 -33.48,-50.91 -30.57,-51.29 C-27.66,-51.67 -24.74,-53.84 -21.83,-53.83 C-18.92,-53.82 -16.01,-51.91 -13.10,-51.22 C-10.19,-50.54 -7.28,-49.62 -4.37,-49.72 C-1.46,-49.82 1.46,-51.53 4.37,-51.83 C7.28,-52.14 10.19,-51.89 13.10,-51.56 C16.01,-51.23 18.92,-49.93 21.83,-49.85 C24.74,-49.77 27.66,-50.84 30.57,-51.08 C33.48,-51.32 37.84,-51.27 39.30,-51.31" fill="none" stroke="#56431f" stroke-width="0.8" opacity="0.75"/>
<path d="M-39.30,-41.42 C-37.84,-41.61 -33.48,-42.28 -30.57,-42.55 C-27.66,-42.83 -24.74,-43.36 -21.83,-43.07 C-18.92,-42.78 -16.01,-41.33 -13.10,-40.83 C-10.19,-40.32 -7.28,-39.83 -4.37,-40.05 C-1.46,-40.28 1.46,-42.10 4.37,-42.17 C7.28,-42.24 10.19,-40.97 13.10,-40.48 C16.01,-39.98 18.92,-39.14 21.83,-39.19 C24.74,-39.24 27.66,-40.53 30.57,-40.76 C33.48,-41.00 37.84,-40.62 39.30,-40.60 L39.30,-36.09 L-39.30,-36.09Z" fill="url(#gS2l)"/>
<path d="M-39.30,-41.42 C-37.84,-41.61 -33.48,-42.28 -30.57,-42.55 C-27.66,-42.83 -24.74,-43.36 -21.83,-43.07 C-18.92,-42.78 -16.01,-41.33 -13.10,-40.83 C-10.19,-40.32 -7.28,-39.83 -4.37,-40.05 C-1.46,-40.28 1.46,-42.10 4.37,-42.17 C7.28,-42.24 10.19,-40.97 13.10,-40.48 C16.01,-39.98 18.92,-39.14 21.83,-39.19 C24.74,-39.24 27.66,-40.53 30.57,-40.76 C33.48,-41.00 37.84,-40.62 39.30,-40.60" fill="none" stroke="#56431f" stroke-width="0.8" opacity="0.75"/>
<path d="M-39.30,-31.16 C-37.84,-30.94 -33.48,-29.72 -30.57,-29.81 C-27.66,-29.91 -24.74,-31.37 -21.83,-31.71 C-18.92,-32.06 -16.01,-32.20 -13.10,-31.87 C-10.19,-31.54 -7.28,-29.91 -4.37,-29.71 C-1.46,-29.52 1.46,-30.34 4.37,-30.69 C7.28,-31.04 10.19,-32.15 13.10,-31.81 C16.01,-31.47 18.92,-29.11 21.83,-28.65 C24.74,-28.18 27.66,-28.76 30.57,-29.01 C33.48,-29.26 37.84,-29.94 39.30,-30.13 L39.30,-25.50 L-39.30,-25.50Z" fill="url(#gS2l)"/>
<path d="M-39.30,-31.16 C-37.84,-30.94 -33.48,-29.72 -30.57,-29.81 C-27.66,-29.91 -24.74,-31.37 -21.83,-31.71 C-18.92,-32.06 -16.01,-32.20 -13.10,-31.87 C-10.19,-31.54 -7.28,-29.91 -4.37,-29.71 C-1.46,-29.52 1.46,-30.34 4.37,-30.69 C7.28,-31.04 10.19,-32.15 13.10,-31.81 C16.01,-31.47 18.92,-29.11 21.83,-28.65 C24.74,-28.18 27.66,-28.76 30.57,-29.01 C33.48,-29.26 37.84,-29.94 39.30,-30.13" fill="none" stroke="#56431f" stroke-width="0.8" opacity="0.75"/>
<path d="M-39.30,-20.92 C-37.84,-20.77 -33.48,-19.96 -30.57,-20.02 C-27.66,-20.08 -24.74,-21.18 -21.83,-21.29 C-18.92,-21.40 -16.01,-21.07 -13.10,-20.66 C-10.19,-20.24 -7.28,-19.12 -4.37,-18.81 C-1.46,-18.50 1.46,-18.47 4.37,-18.80 C7.28,-19.13 10.19,-20.73 13.10,-20.76 C16.01,-20.80 18.92,-19.51 21.83,-19.00 C24.74,-18.50 27.66,-17.68 30.57,-17.74 C33.48,-17.80 37.84,-19.10 39.30,-19.37 L39.30,-14.76 L-39.30,-14.76Z" fill="url(#gS2l)"/>
<path d="M-39.30,-20.92 C-37.84,-20.77 -33.48,-19.96 -30.57,-20.02 C-27.66,-20.08 -24.74,-21.18 -21.83,-21.29 C-18.92,-21.40 -16.01,-21.07 -13.10,-20.66 C-10.19,-20.24 -7.28,-19.12 -4.37,-18.81 C-1.46,-18.50 1.46,-18.47 4.37,-18.80 C7.28,-19.13 10.19,-20.73 13.10,-20.76 C16.01,-20.80 18.92,-19.51 21.83,-19.00 C24.74,-18.50 27.66,-17.68 30.57,-17.74 C33.48,-17.80 37.84,-19.10 39.30,-19.37" fill="none" stroke="#56431f" stroke-width="0.8" opacity="0.75"/>
<path d="M-39.30,-9.94 C-37.84,-9.74 -33.48,-8.61 -30.57,-8.75 C-27.66,-8.89 -24.74,-10.55 -21.83,-10.77 C-18.92,-11.00 -16.01,-10.50 -13.10,-10.10 C-10.19,-9.70 -7.28,-8.35 -4.37,-8.38 C-1.46,-8.41 1.46,-10.00 4.37,-10.28 C7.28,-10.56 10.19,-10.62 13.10,-10.06 C16.01,-9.49 18.92,-7.13 21.83,-6.90 C24.74,-6.67 27.66,-8.30 30.57,-8.66 C33.48,-9.03 37.84,-9.02 39.30,-9.09 L39.30,-4.18 L-39.30,-4.18Z" fill="url(#gS2l)"/>
<path d="M-39.30,-9.94 C-37.84,-9.74 -33.48,-8.61 -30.57,-8.75 C-27.66,-8.89 -24.74,-10.55 -21.83,-10.77 C-18.92,-11.00 -16.01,-10.50 -13.10,-10.10 C-10.19,-9.70 -7.28,-8.35 -4.37,-8.38 C-1.46,-8.41 1.46,-10.00 4.37,-10.28 C7.28,-10.56 10.19,-10.62 13.10,-10.06 C16.01,-9.49 18.92,-7.13 21.83,-6.90 C24.74,-6.67 27.66,-8.30 30.57,-8.66 C33.48,-9.03 37.84,-9.02 39.30,-9.09" fill="none" stroke="#56431f" stroke-width="0.8" opacity="0.75"/>
<path d="M-39.30,1.90 C-37.84,1.63 -33.48,0.64 -30.57,0.30 C-27.66,-0.04 -24.74,-0.32 -21.83,-0.12 C-18.92,0.09 -16.01,1.14 -13.10,1.52 C-10.19,1.90 -7.28,2.40 -4.37,2.17 C-1.46,1.95 1.46,0.25 4.37,0.19 C7.28,0.13 10.19,1.16 13.10,1.82 C16.01,2.47 18.92,4.06 21.83,4.11 C24.74,4.16 27.66,2.50 30.57,2.14 C33.48,1.78 37.84,1.99 39.30,1.96 L39.30,6.64 L-39.30,6.64Z" fill="url(#gS2l)"/>
<path d="M-39.30,1.90 C-37.84,1.63 -33.48,0.64 -30.57,0.30 C-27.66,-0.04 -24.74,-0.32 -21.83,-0.12 C-18.92,0.09 -16.01,1.14 -13.10,1.52 C-10.19,1.90 -7.28,2.40 -4.37,2.17 C-1.46,1.95 1.46,0.25 4.37,0.19 C7.28,0.13 10.19,1.16 13.10,1.82 C16.01,2.47 18.92,4.06 21.83,4.11 C24.74,4.16 27.66,2.50 30.57,2.14 C33.48,1.78 37.84,1.99 39.30,1.96" fill="none" stroke="#56431f" stroke-width="0.8" opacity="0.75"/>
<path d="M-39.30,12.98 C-37.84,12.89 -33.48,12.71 -30.57,12.44 C-27.66,12.18 -24.74,11.27 -21.83,11.38 C-18.92,11.48 -16.01,12.60 -13.10,13.07 C-10.19,13.53 -7.28,14.40 -4.37,14.16 C-1.46,13.91 1.46,11.72 4.37,11.59 C7.28,11.47 10.19,12.80 13.10,13.41 C16.01,14.01 18.92,15.33 21.83,15.24 C24.74,15.16 27.66,13.17 30.57,12.89 C33.48,12.60 37.84,13.42 39.30,13.53 L39.30,18.08 L-39.30,18.08Z" fill="url(#gS2l)"/>
<path d="M-39.30,12.98 C-37.84,12.89 -33.48,12.71 -30.57,12.44 C-27.66,12.18 -24.74,11.27 -21.83,11.38 C-18.92,11.48 -16.01,12.60 -13.10,13.07 C-10.19,13.53 -7.28,14.40 -4.37,14.16 C-1.46,13.91 1.46,11.72 4.37,11.59 C7.28,11.47 10.19,12.80 13.10,13.41 C16.01,14.01 18.92,15.33 21.83,15.24 C24.74,15.16 27.66,13.17 30.57,12.89 C33.48,12.60 37.84,13.42 39.30,13.53" fill="none" stroke="#56431f" stroke-width="0.8" opacity="0.75"/>
<path d="M-39.30,22.95 C-37.84,22.95 -33.48,23.16 -30.57,22.93 C-27.66,22.71 -24.74,21.62 -21.83,21.60 C-18.92,21.58 -16.01,22.33 -13.10,22.80 C-10.19,23.27 -7.28,24.35 -4.37,24.43 C-1.46,24.51 1.46,23.53 4.37,23.29 C7.28,23.06 10.19,22.69 13.10,23.04 C16.01,23.39 18.92,25.13 21.83,25.41 C24.74,25.69 27.66,25.10 30.57,24.71 C33.48,24.31 37.84,23.31 39.30,23.03 L39.30,28.38 L-39.30,28.38Z" fill="url(#gS2l)"/>
<path d="M-39.30,22.95 C-37.84,22.95 -33.48,23.16 -30.57,22.93 C-27.66,22.71 -24.74,21.62 -21.83,21.60 C-18.92,21.58 -16.01,22.33 -13.10,22.80 C-10.19,23.27 -7.28,24.35 -4.37,24.43 C-1.46,24.51 1.46,23.53 4.37,23.29 C7.28,23.06 10.19,22.69 13.10,23.04 C16.01,23.39 18.92,25.13 21.83,25.41 C24.74,25.69 27.66,25.10 30.57,24.71 C33.48,24.31 37.84,23.31 39.30,23.03" fill="none" stroke="#56431f" stroke-width="0.8" opacity="0.75"/>
<path d="M-39.30,32.24 C-37.84,32.50 -33.48,33.74 -30.57,33.80 C-27.66,33.87 -24.74,32.86 -21.83,32.64 C-18.92,32.42 -16.01,32.08 -13.10,32.48 C-10.19,32.89 -7.28,34.78 -4.37,35.07 C-1.46,35.35 1.46,34.47 4.37,34.20 C7.28,33.93 10.19,33.31 13.10,33.47 C16.01,33.63 18.92,34.72 21.83,35.14 C24.74,35.57 27.66,36.22 30.57,36.03 C33.48,35.84 37.84,34.33 39.30,33.99 L39.30,38.80 L-39.30,38.80Z" fill="url(#gS2l)"/>
<path d="M-39.30,32.24 C-37.84,32.50 -33.48,33.74 -30.57,33.80 C-27.66,33.87 -24.74,32.86 -21.83,32.64 C-18.92,32.42 -16.01,32.08 -13.10,32.48 C-10.19,32.89 -7.28,34.78 -4.37,35.07 C-1.46,35.35 1.46,34.47 4.37,34.20 C7.28,33.93 10.19,33.31 13.10,33.47 C16.01,33.63 18.92,34.72 21.83,35.14 C24.74,35.57 27.66,36.22 30.57,36.03 C33.48,35.84 37.84,34.33 39.30,33.99" fill="none" stroke="#56431f" stroke-width="0.8" opacity="0.75"/>
<path d="M-39.30,43.78 C-37.84,43.81 -33.48,44.15 -30.57,43.97 C-27.66,43.78 -24.74,42.85 -21.83,42.69 C-18.92,42.53 -16.01,42.51 -13.10,43.01 C-10.19,43.51 -7.28,45.53 -4.37,45.70 C-1.46,45.86 1.46,44.40 4.37,43.99 C7.28,43.59 10.19,43.02 13.10,43.27 C16.01,43.53 18.92,45.11 21.83,45.52 C24.74,45.92 27.66,46.03 30.57,45.71 C33.48,45.38 37.84,43.92 39.30,43.56 L39.30,49.15 L-39.30,49.15Z" fill="url(#gS2l)"/>
<path d="M-39.30,43.78 C-37.84,43.81 -33.48,44.15 -30.57,43.97 C-27.66,43.78 -24.74,42.85 -21.83,42.69 C-18.92,42.53 -16.01,42.51 -13.10,43.01 C-10.19,43.51 -7.28,45.53 -4.37,45.70 C-1.46,45.86 1.46,44.40 4.37,43.99 C7.28,43.59 10.19,43.02 13.10,43.27 C16.01,43.53 18.92,45.11 21.83,45.52 C24.74,45.92 27.66,46.03 30.57,45.71 C33.48,45.38 37.84,43.92 39.30,43.56" fill="none" stroke="#56431f" stroke-width="0.8" opacity="0.75"/>
<path d="M-39.30,53.39 C-37.84,53.30 -33.48,52.61 -30.57,52.85 C-27.66,53.09 -24.74,54.47 -21.83,54.83 C-18.92,55.19 -16.01,55.35 -13.10,55.03 C-10.19,54.70 -7.28,52.92 -4.37,52.88 C-1.46,52.84 1.46,54.31 4.37,54.78 C7.28,55.26 10.19,55.84 13.10,55.73 C16.01,55.62 18.92,54.26 21.83,54.12 C24.74,53.99 27.66,54.47 30.57,54.92 C33.48,55.36 37.84,56.47 39.30,56.78 L39.30,59.67 L-39.30,59.67Z" fill="url(#gS2l)"/>
<path d="M-39.30,53.39 C-37.84,53.30 -33.48,52.61 -30.57,52.85 C-27.66,53.09 -24.74,54.47 -21.83,54.83 C-18.92,55.19 -16.01,55.35 -13.10,55.03 C-10.19,54.70 -7.28,52.92 -4.37,52.88 C-1.46,52.84 1.46,54.31 4.37,54.78 C7.28,55.26 10.19,55.84 13.10,55.73 C16.01,55.62 18.92,54.26 21.83,54.12 C24.74,53.99 27.66,54.47 30.57,54.92 C33.48,55.36 37.84,56.47 39.30,56.78" fill="none" stroke="#56431f" stroke-width="0.8" opacity="0.75"/>
<path d="M-39.30,63.14 C-37.84,63.17 -33.48,62.80 -30.57,63.33 C-27.66,63.87 -24.74,65.93 -21.83,66.33 C-18.92,66.73 -16.01,66.08 -13.10,65.72 C-10.19,65.36 -7.28,64.04 -4.37,64.16 C-1.46,64.27 1.46,65.97 4.37,66.40 C7.28,66.83 10.19,67.07 13.10,66.75 C16.01,66.42 18.92,64.60 21.83,64.43 C24.74,64.26 27.66,65.23 30.57,65.71 C33.48,66.18 37.84,67.02 39.30,67.29 L39.30,70.38 L-39.30,70.38Z" fill="url(#gS2l)"/>
<path d="M-39.30,63.14 C-37.84,63.17 -33.48,62.80 -30.57,63.33 C-27.66,63.87 -24.74,65.93 -21.83,66.33 C-18.92,66.73 -16.01,66.08 -13.10,65.72 C-10.19,65.36 -7.28,64.04 -4.37,64.16 C-1.46,64.27 1.46,65.97 4.37,66.40 C7.28,66.83 10.19,67.07 13.10,66.75 C16.01,66.42 18.92,64.60 21.83,64.43 C24.74,64.26 27.66,65.23 30.57,65.71 C33.48,66.18 37.84,67.02 39.30,67.29" fill="none" stroke="#56431f" stroke-width="0.8" opacity="0.75"/>
<path d="M-39.30,74.94 C-37.84,75.01 -33.48,74.91 -30.57,75.35 C-27.66,75.78 -24.74,77.51 -21.83,77.56 C-18.92,77.60 -16.01,75.82 -13.10,75.61 C-10.19,75.40 -7.28,75.90 -4.37,76.30 C-1.46,76.71 1.46,77.80 4.37,78.04 C7.28,78.28 10.19,78.11 13.10,77.74 C16.01,77.38 18.92,75.68 21.83,75.84 C24.74,76.01 27.66,78.23 30.57,78.76 C33.48,79.28 37.84,78.94 39.30,78.98 L39.30,81.86 L-39.30,81.86Z" fill="url(#gS2l)"/>
<path d="M-39.30,74.94 C-37.84,75.01 -33.48,74.91 -30.57,75.35 C-27.66,75.78 -24.74,77.51 -21.83,77.56 C-18.92,77.60 -16.01,75.82 -13.10,75.61 C-10.19,75.40 -7.28,75.90 -4.37,76.30 C-1.46,76.71 1.46,77.80 4.37,78.04 C7.28,78.28 10.19,78.11 13.10,77.74 C16.01,77.38 18.92,75.68 21.83,75.84 C24.74,76.01 27.66,78.23 30.57,78.76 C33.48,79.28 37.84,78.94 39.30,78.98" fill="none" stroke="#56431f" stroke-width="0.8" opacity="0.75"/>
<rect x="-38.3" y="-85" width="76.6" height="170" fill="url(#gS2s)"/>
</g></g>
<circle cx="1286.0" cy="476.4" r="66.0" fill="none" stroke="#6e5e3a" stroke-width="1.7"/>
<!-- sec_mech -->
<defs>
<linearGradient id="gM1" x1="0" y1="0" x2="0" y2="1"><stop offset="0" stop-color="#5cb531"/><stop offset="0.55" stop-color="#7cc02a"/><stop offset="1" stop-color="#9dcb1c"/></linearGradient>
<linearGradient id="gMi1" x1="0" y1="0" x2="0" y2="1"><stop offset="0" stop-color="#7cc24b"/><stop offset="1" stop-color="#b9dd92"/></linearGradient>
<linearGradient id="gM2" x1="0" y1="0" x2="0" y2="1"><stop offset="0" stop-color="#5cb531"/><stop offset="0.55" stop-color="#7cc02a"/><stop offset="1" stop-color="#9dcb1c"/></linearGradient>
<linearGradient id="gMi2" x1="0" y1="0" x2="0" y2="1"><stop offset="0" stop-color="#7cc24b"/><stop offset="1" stop-color="#b9dd92"/></linearGradient>
</defs>
<circle cx="115.6" cy="695.9" r="3" fill="#e96a66"/>
<circle cx="105.9" cy="702.8" r="3" fill="#e96a66"/>
<circle cx="97.6" cy="710.5" r="3" fill="#e96a66"/>
<circle cx="89.7" cy="719.7" r="3" fill="#e96a66"/>
<circle cx="83.7" cy="729.4" r="3" fill="#e96a66"/>
<circle cx="78.1" cy="739.9" r="3" fill="#e96a66"/>
<circle cx="64.7" cy="816.7" r="3" fill="#e96a66"/>
<circle cx="72.8" cy="824.8" r="3" fill="#e96a66"/>
<circle cx="82.3" cy="832.0" r="3" fill="#e96a66"/>
<circle cx="92.0" cy="838.2" r="3" fill="#e96a66"/>
<circle cx="102.7" cy="843.3" r="3" fill="#e96a66"/>
<circle cx="114.0" cy="846.6" r="3" fill="#e96a66"/>
<circle cx="186.3" cy="792.6" r="3" fill="#e96a66"/>
<circle cx="188.8" cy="804.4" r="3" fill="#e96a66"/>
<circle cx="190.0" cy="816.0" r="3" fill="#e96a66"/>
<circle cx="184.4" cy="825.5" r="3" fill="#e96a66"/>
<circle cx="190.2" cy="832.7" r="3" fill="#e96a66"/>
<circle cx="201.8" cy="830.6" r="3" fill="#e96a66"/>
<circle cx="208.7" cy="684.3" r="4.2" fill="#e96a66"/>
<circle cx="240.4" cy="732.0" r="4.2" fill="#e96a66"/>
<circle cx="274.7" cy="786.2" r="4.2" fill="#e96a66"/>
<circle cx="222.8" cy="810.5" r="4.2" fill="#e96a66"/>
<ellipse cx="153.4" cy="688.9" rx="13" ry="10" transform="rotate(-28 153.4 688.9)" fill="none" stroke="#b5d0ec" stroke-width="3.2"/>
<ellipse cx="226.8" cy="780.8" rx="14.8" ry="13.2" transform="rotate(20 226.8 780.8)" fill="none" stroke="#b5d0ec" stroke-width="3.2"/>
<ellipse cx="251.5" cy="816.7" rx="12.6" ry="11.2" transform="rotate(-40 251.5 816.7)" fill="none" stroke="#b5d0ec" stroke-width="3.2"/>
<g transform="translate(172.80 736.50) rotate(-31.0)">
<path d="M-43.00,0.00 C-43.14,-5.20 -42.28,-12.13 -38.70,-15.60 C-35.12,-19.07 -27.95,-20.19 -21.50,-20.80 C-15.05,-21.41 -6.81,-18.81 0.00,-19.24 C6.81,-19.67 13.19,-23.05 19.35,-23.40 C25.51,-23.75 33.04,-24.79 36.98,-21.32 C40.92,-17.85 42.71,-8.84 43.00,-2.60 C43.29,3.64 42.28,11.44 38.70,16.12 C35.12,20.80 27.95,23.66 21.50,25.48 C15.05,27.30 7.17,27.17 0.00,27.04 C-7.17,26.91 -15.19,26.61 -21.50,24.70 C-27.81,22.79 -34.26,19.72 -37.84,15.60 C-41.42,11.48 -42.86,5.20 -43.00,0.00Z" fill="url(#gM1)"/>
<path d="M-34.98,-3.90 C-35.09,-8.22 -34.39,-13.97 -31.48,-16.85 C-28.56,-19.73 -22.73,-20.66 -17.49,-21.16 C-12.24,-21.67 -5.54,-19.51 0.00,-19.87 C5.54,-20.23 10.73,-23.03 15.74,-23.32 C20.75,-23.61 26.87,-24.47 30.08,-21.60 C33.29,-18.72 34.74,-11.24 34.98,-6.06 C35.21,-0.88 34.39,5.60 31.48,9.48 C28.56,13.36 22.73,15.74 17.49,17.25 C12.24,18.76 5.83,18.65 0.00,18.54 C-5.83,18.44 -12.36,18.18 -17.49,16.60 C-22.62,15.02 -27.86,12.46 -30.78,9.05 C-33.69,5.63 -34.86,0.42 -34.98,-3.90Z" fill="url(#gMi1)" stroke="#58b237" stroke-width="1.3"/>
<path d="M-27.07,-10.03 C-26.15,11.84 -20.07,11.84 -19.81,-3.66 C-19.54,-17.12 -13.87,-17.12 -13.47,-3.66 C-12.94,11.84 -6.87,11.84 -6.60,-3.66 C-6.34,-17.12 -0.66,-17.12 -0.26,-3.66 C0.26,11.84 6.34,11.84 6.60,-3.66 C6.87,-17.12 12.55,-17.12 12.94,-3.66 C13.47,11.84 19.54,11.84 19.81,-3.66 C20.07,-16.12 24.43,-16.62 25.09,-6.21" fill="none" stroke="#62b53c" stroke-width="5.2" stroke-linecap="round" stroke-linejoin="round"/>
<path d="M-27.07,-10.03 C-26.15,11.84 -20.07,11.84 -19.81,-3.66 C-19.54,-17.12 -13.87,-17.12 -13.47,-3.66 C-12.94,11.84 -6.87,11.84 -6.60,-3.66 C-6.34,-17.12 -0.66,-17.12 -0.26,-3.66 C0.26,11.84 6.34,11.84 6.60,-3.66 C6.87,-17.12 12.55,-17.12 12.94,-3.66 C13.47,11.84 19.54,11.84 19.81,-3.66 C20.07,-16.12 24.43,-16.62 25.09,-6.21" fill="none" stroke="#c4e3a0" stroke-width="3.2" stroke-linecap="round" stroke-linejoin="round"/>
<path d="M-27.07,-10.03 C-26.15,11.84 -20.07,11.84 -19.81,-3.66 C-19.54,-17.12 -13.87,-17.12 -13.47,-3.66 C-12.94,11.84 -6.87,11.84 -6.60,-3.66 C-6.34,-17.12 -0.66,-17.12 -0.26,-3.66 C0.26,11.84 6.34,11.84 6.60,-3.66 C6.87,-17.12 12.55,-17.12 12.94,-3.66 C13.47,11.84 19.54,11.84 19.81,-3.66 C20.07,-16.12 24.43,-16.62 25.09,-6.21" fill="none" stroke="#9fd06f" stroke-width="1.6" stroke-linecap="round" stroke-linejoin="round"/>
</g>
<g transform="translate(115.20 793.80) rotate(35.0)">
<path d="M44.00,0.00 C44.15,-5.20 43.27,-12.13 39.60,-15.60 C35.93,-19.07 28.60,-20.19 22.00,-20.80 C15.40,-21.41 6.97,-18.81 0.00,-19.24 C-6.97,-19.67 -13.49,-23.05 -19.80,-23.40 C-26.11,-23.75 -33.81,-24.79 -37.84,-21.32 C-41.87,-17.85 -43.71,-8.84 -44.00,-2.60 C-44.29,3.64 -43.27,11.44 -39.60,16.12 C-35.93,20.80 -28.60,23.66 -22.00,25.48 C-15.40,27.30 -7.33,27.17 0.00,27.04 C7.33,26.91 15.55,26.61 22.00,24.70 C28.45,22.79 35.05,19.72 38.72,15.60 C42.39,11.48 43.85,5.20 44.00,0.00Z" fill="url(#gM2)"/>
<path d="M35.79,-3.90 C35.91,-8.22 35.19,-13.97 32.21,-16.85 C29.23,-19.73 23.26,-20.66 17.89,-21.16 C12.53,-21.67 5.67,-19.51 0.00,-19.87 C-5.67,-20.23 -10.98,-23.03 -16.11,-23.32 C-21.24,-23.61 -27.50,-24.47 -30.78,-21.60 C-34.06,-18.72 -35.55,-11.24 -35.79,-6.06 C-36.03,-0.88 -35.19,5.60 -32.21,9.48 C-29.23,13.36 -23.26,15.74 -17.89,17.25 C-12.53,18.76 -5.96,18.65 0.00,18.54 C5.96,18.44 12.65,18.18 17.89,16.60 C23.14,15.02 28.51,12.46 31.49,9.05 C34.48,5.63 35.67,0.42 35.79,-3.90Z" fill="url(#gMi2)" stroke="#58b237" stroke-width="1.3"/>
<g transform="scale(-1 1)">
<path d="M-27.70,-10.03 C-26.75,11.84 -20.54,11.84 -20.27,-3.66 C-20.00,-17.12 -14.19,-17.12 -13.78,-3.66 C-13.24,11.84 -7.03,11.84 -6.76,-3.66 C-6.49,-17.12 -0.68,-17.12 -0.27,-3.66 C0.27,11.84 6.49,11.84 6.76,-3.66 C7.03,-17.12 12.84,-17.12 13.24,-3.66 C13.78,11.84 20.00,11.84 20.27,-3.66 C20.54,-16.12 25.00,-16.62 25.67,-6.21" fill="none" stroke="#62b53c" stroke-width="5.2" stroke-linecap="round" stroke-linejoin="round"/>
<path d="M-27.70,-10.03 C-26.75,11.84 -20.54,11.84 -20.27,-3.66 C-20.00,-17.12 -14.19,-17.12 -13.78,-3.66 C-13.24,11.84 -7.03,11.84 -6.76,-3.66 C-6.49,-17.12 -0.68,-17.12 -0.27,-3.66 C0.27,11.84 6.49,11.84 6.76,-3.66 C7.03,-17.12 12.84,-17.12 13.24,-3.66 C13.78,11.84 20.00,11.84 20.27,-3.66 C20.54,-16.12 25.00,-16.62 25.67,-6.21" fill="none" stroke="#c4e3a0" stroke-width="3.2" stroke-linecap="round" stroke-linejoin="round"/>
<path d="M-27.70,-10.03 C-26.75,11.84 -20.54,11.84 -20.27,-3.66 C-20.00,-17.12 -14.19,-17.12 -13.78,-3.66 C-13.24,11.84 -7.03,11.84 -6.76,-3.66 C-6.49,-17.12 -0.68,-17.12 -0.27,-3.66 C0.27,11.84 6.49,11.84 6.76,-3.66 C7.03,-17.12 12.84,-17.12 13.24,-3.66 C13.78,11.84 20.00,11.84 20.27,-3.66 C20.54,-16.12 25.00,-16.62 25.67,-6.21" fill="none" stroke="#9fd06f" stroke-width="1.6" stroke-linecap="round" stroke-linejoin="round"/>
</g>
</g>
<circle cx="454" cy="741" r="93" fill="none" stroke="#352a25" stroke-width="6.2"/>
<path d="M337.5,642.5 C337.5,668 350,686.5 371.5,692.8" fill="none" stroke="#352a25" stroke-width="6.2" stroke-linecap="round"/>
<path d="M597.8,695.8 C597.8,718.4 576,736.6 549,736.6" fill="none" stroke="#352a25" stroke-width="6.2" stroke-linecap="round"/>
<path d="M524.5,806.1 L556,806.1" fill="none" stroke="#2b211d" stroke-width="5.4"/>
<path d="M552.2,795.7 L582.9,806.1 L552.2,816.5Z" fill="#231815"/>
<!-- sec_text -->
<g opacity="0.999"><text x="57.55" y="44.50" font-size="40.00" letter-spacing="1.023" fill="#ffffff" >Study Design</text>
<text x="148.84" y="114.50" font-size="37.00" letter-spacing="-0.307" fill="#352a25" >NMN</text>
<text x="43.41" y="151.25" font-size="36.50" letter-spacing="-0.070" fill="#352a25" >Supplementation</text>
<text x="55.78" y="324.50" font-size="26.50" letter-spacing="0.096" fill="#352a25" >NMN intake 12 weeks</text>
<text x="113.17" y="356.00" font-size="26.50" letter-spacing="0.089" fill="#352a25" >(500mg/day)</text>
<text x="92.95" y="438.75" font-size="26.50" letter-spacing="-0.019" fill="#352a25" >Subjects (n=15)</text>
<text x="87.53" y="471.25" font-size="26.50" letter-spacing="0.132" fill="#352a25" >Healthy Japanese</text>
<text x="79.13" y="504.00" font-size="26.50" letter-spacing="0.035" fill="#352a25" >women (age:40-50)</text>
<text x="1122.00" y="45.70" font-size="40.00" letter-spacing="0.840" fill="#ffffff" >Result</text>
<text x="996.20" y="101.80" font-size="37.00" letter-spacing="-0.195" fill="#352a25" >Hair elongation</text>
<text x="996.20" y="146.00" font-size="37.00" letter-spacing="-0.164" fill="#352a25" >Hair shaft diameter</text>
<text x="996.18" y="190.30" font-size="37.00" letter-spacing="-0.216" fill="#352a25" >Amino acids</text>
<text x="996.20" y="234.60" font-size="37.00" letter-spacing="-0.139" fill="#352a25" >Hair cuticle</text>
<path d="M1283.50,72.90 L1297.50,87.92 L1290.50,87.92 L1290.50,104.20 L1276.50,104.20 L1276.50,87.92 L1269.50,87.92Z" fill="#f5ab2e"/>
<path d="M1349.20,119.50 L1363.20,134.52 L1356.20,134.52 L1356.20,150.80 L1342.20,150.80 L1342.20,134.52 L1335.20,134.52Z" fill="#f5ab2e"/>
<path d="M1236.00,163.20 L1250.00,178.22 L1243.00,178.22 L1243.00,194.50 L1229.00,194.50 L1229.00,178.22 L1222.00,178.22Z" fill="#f5ab2e"/>
<path d="M1216.20,207.00 L1230.20,222.02 L1223.20,222.02 L1223.20,238.30 L1209.20,238.30 L1209.20,222.02 L1202.20,222.02Z" fill="#f5ab2e"/>
<text x="71.25" y="605.50" font-size="38.50" letter-spacing="-0.161" fill="#ffffff" >Expected</text>
<text x="52.00" y="651.50" font-size="38.50" letter-spacing="-0.516" fill="#ffffff" >mechanism</text>
<text x="307.59" y="627.40" font-size="40.20" letter-spacing="-1.606" fill="#352a25" >NAD</text>
<path d="M392.4,607.5H412M402.2,598V617" stroke="#352a25" stroke-width="4.8" fill="none"/>
<path d="M434.90,596.00 L450.05,612.32 L442.47,612.32 L442.47,630.00 L427.32,630.00 L427.32,612.32 L419.75,612.32Z" fill="#f5ab2e"/>
<text x="405.91" y="730.70" font-size="49.00" letter-spacing="-1.590" fill="#352a25" >TCA</text>
<text x="390.34" y="779.50" font-size="49.00" letter-spacing="-0.502" fill="#352a25" >Cycle</text>
<text x="541.54" y="641.60" font-size="38.20" letter-spacing="0.295" fill="#352a25" >Amino</text>
<text x="563.55" y="681.30" font-size="38.20" letter-spacing="0.093" fill="#352a25" >acids</text>
<path d="M683.20,634.00 L698.35,650.22 L690.78,650.22 L690.78,667.80 L675.62,667.80 L675.62,650.22 L668.05,650.22Z" fill="#f5ab2e"/>
<text x="590.12" y="820.80" font-size="39.10" letter-spacing="-1.809" fill="#352a25" >ATP</text>
<path d="M683.20,791.90 L698.35,808.12 L690.78,808.12 L690.78,825.70 L675.62,825.70 L675.62,808.12 L668.05,808.12Z" fill="#f5ab2e"/>
<text x="725.97" y="486.25" font-size="34.50" letter-spacing="1.280" fill="#231815" stroke="#fff" stroke-width="3.2" stroke-linejoin="round" paint-order="stroke">Supports</text>
<text x="706.51" y="527.00" font-size="34.50" letter-spacing="0.814" fill="#231815" stroke="#fff" stroke-width="3.2" stroke-linejoin="round" paint-order="stroke">Healthy Hair</text>
<text x="729.77" y="618.60" font-size="34.30" letter-spacing="-0.114" fill="#231815" >Increased NAD</text>
<path d="M973.5,601.4H990.9M982.2,593.1V609.8" stroke="#231815" stroke-width="4" fill="none"/>
<text x="1001.50" y="618.60" font-size="34.30" letter-spacing="0.027" fill="#231815" >in cells (Whole body)</text>
<text x="827.67" y="661.30" font-size="34.30" letter-spacing="-0.116" fill="#231815" >Basal metabolism</text>
<text x="914.24" y="704.40" font-size="34.30" letter-spacing="-0.237" fill="#231815" >Amino acids supply</text>
<text x="826.07" y="746.50" font-size="34.30" letter-spacing="-0.124" fill="#231815" >Mitochondrial Function</text>
<text x="911.34" y="789.70" font-size="34.30" letter-spacing="-0.251" fill="#231815" >ATP supply</text>
<text x="826.67" y="831.20" font-size="34.30" letter-spacing="-0.293" fill="#231815" >SIRT Pathway</text>
<circle cx="806.6" cy="649.9" r="11.5" fill="#352a25"/>
<circle cx="806.6" cy="734.6" r="11.5" fill="#352a25"/>
<circle cx="806.6" cy="819.7" r="11.5" fill="#352a25"/>
<path d="M873.5,695.6 H904.2 M897.7,689.4 L905.2,695.6 L897.7,701.8" stroke="#231815" stroke-width="1.5" fill="none" stroke-linecap="round" stroke-linejoin="round"/>
<path d="M871.0,780.8 H901.6 M895.1,774.6 L902.6,780.8 L895.1,787.0" stroke="#231815" stroke-width="1.5" fill="none" stroke-linecap="round" stroke-linejoin="round"/>
<path d="M1257.00,678.30 L1272.10,694.91 L1264.55,694.91 L1264.55,712.90 L1249.45,712.90 L1249.45,694.91 L1241.90,694.91Z" fill="#f5ab2e"/>
<path d="M1122.30,761.90 L1137.40,778.51 L1129.85,778.51 L1129.85,796.50 L1114.75,796.50 L1114.75,778.51 L1107.20,778.51Z" fill="#f5ab2e"/>
<path d="M1077.20,805.50 L1092.30,822.11 L1084.75,822.11 L1084.75,840.10 L1069.65,840.10 L1069.65,822.11 L1062.10,822.11Z" fill="#f5ab2e"/></g>
</svg>
</body></html>
